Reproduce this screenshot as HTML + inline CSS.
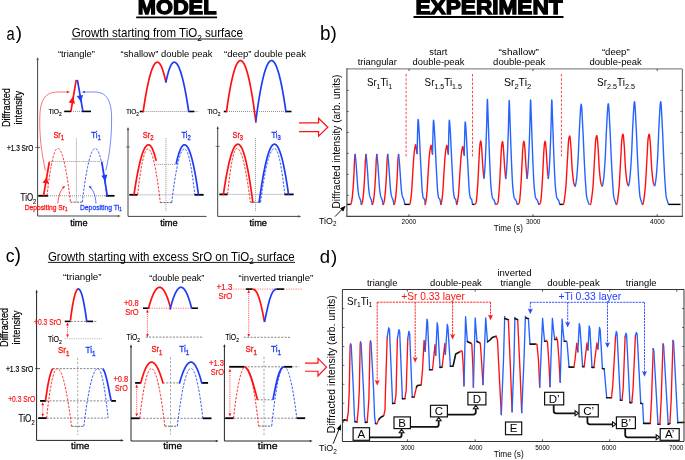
<!DOCTYPE html>
<html><head><meta charset="utf-8"><style>
html,body{margin:0;padding:0;background:#fff;overflow:hidden}
svg{display:block;will-change:transform}
text{font-family:"Liberation Sans",sans-serif}
</style></head><body>
<svg width="685" height="460" viewBox="0 0 685 460">
<rect width="685" height="460" fill="#fff"/>
<text transform="translate(137.80,14.10) scale(1.0379,1)" fill="#000" font-weight="bold" stroke="#000" stroke-width="1.3"><tspan dy="0.00" font-size="21.00">MODEL</tspan></text>
<line x1="136.20" y1="17.30" x2="217.10" y2="17.30" stroke="#000" stroke-width="1.8" />
<text transform="translate(415.50,14.00) scale(1.0782,1)" fill="#000" font-weight="bold" stroke="#000" stroke-width="1.3"><tspan dy="0.00" font-size="21.00">EXPERIMENT</tspan></text>
<line x1="413.50" y1="17.00" x2="563.50" y2="17.00" stroke="#000" stroke-width="1.8" />
<text transform="translate(6.40,39.60) scale(0.7970,1)" fill="#000" ><tspan dy="0.00" font-size="18.50">a</tspan></text>
<text transform="translate(15.70,38.90) scale(0.9998,1)" fill="#000" ><tspan dy="0.00" font-size="18.80">)</tspan></text>
<text transform="translate(319.90,39.80) scale(0.9393,1)" fill="#000" ><tspan dy="0.00" font-size="20.10">b</tspan></text>
<text transform="translate(330.40,38.80) scale(0.9956,1)" fill="#000" ><tspan dy="0.00" font-size="19.00">)</tspan></text>
<text transform="translate(5.80,262.00) scale(0.9565,1)" fill="#000" ><tspan dy="0.00" font-size="18.40">c</tspan></text>
<text transform="translate(14.50,261.70) scale(0.9998,1)" fill="#000" ><tspan dy="0.00" font-size="19.40">)</tspan></text>
<text transform="translate(319.75,263.20) scale(0.9692,1)" fill="#000" ><tspan dy="0.00" font-size="19.20">d</tspan></text>
<text transform="translate(330.90,262.60) scale(1.0009,1)" fill="#000" ><tspan dy="0.00" font-size="18.60">)</tspan></text>
<text transform="translate(71.70,37.00) scale(0.9018,1)" fill="#000" ><tspan dy="0.00" font-size="12.80">Growth starting from TiO</tspan><tspan dy="3.58" font-size="9.22">2</tspan><tspan dy="-3.58" font-size="12.80"> surface</tspan></text>
<line x1="71.70" y1="39.00" x2="243.10" y2="39.00" stroke="#000" stroke-width="0.9" />
<text transform="translate(57.90,56.50) scale(0.9870,1)" fill="#000" ><tspan dy="0.00" font-size="9.50">“triangle”</tspan></text>
<text transform="translate(120.50,56.50) scale(0.9965,1)" fill="#000" ><tspan dy="0.00" font-size="9.50">“shallow” double peak</tspan></text>
<text transform="translate(224.00,56.50) scale(1.0016,1)" fill="#000" ><tspan dy="0.00" font-size="9.50">“deep” double peak</tspan></text>
<text transform="translate(10.30,127.00) rotate(-90) scale(0.8716,1)" fill="#000"  stroke="#000" stroke-width="0.18"><tspan dy="0.00" font-size="10.50">Diffracted</tspan></text>
<text transform="translate(21.50,124.50) rotate(-90) scale(0.8697,1)" fill="#000"  stroke="#000" stroke-width="0.18"><tspan dy="0.00" font-size="10.50">intensity</tspan></text>
<line x1="37.60" y1="58.50" x2="37.60" y2="216.00" stroke="#444" stroke-width="1" />
<path d="M37.60,57.00 L38.70,60.00 L36.50,60.00 Z" fill="#444"/>
<line x1="37.60" y1="216.00" x2="119.00" y2="216.00" stroke="#444" stroke-width="1" />
<path d="M120.80,216.00 L117.80,217.10 L117.80,214.90 Z" fill="#444"/>
<line x1="35.20" y1="147.40" x2="40.10" y2="147.40" stroke="#444" stroke-width="0.8" />
<text transform="translate(6.90,150.50) scale(0.7989,1)" fill="#000"  stroke="#000" stroke-width="0.18"><tspan dy="0.00" font-size="8.20">+1.3 SrO</tspan></text>
<text transform="translate(20.60,200.50) scale(0.7184,1)" fill="#000"  stroke="#000" stroke-width="0.12"><tspan dy="0.00" font-size="11.00">TiO</tspan><tspan dy="3.08" font-size="7.92">2</tspan></text>
<text transform="translate(48.50,114.20) scale(0.9357,1)" fill="#000"  stroke="#000" stroke-width="0.12"><tspan dy="0.00" font-size="7.20">TiO</tspan><tspan dy="2.02" font-size="5.18">2</tspan></text>
<line x1="64.20" y1="111.40" x2="71.00" y2="111.40" stroke="#000" stroke-width="1.6" />
<line x1="71.00" y1="111.40" x2="81.70" y2="111.40" stroke="#888" stroke-width="0.9" stroke-dasharray="1,1" />
<line x1="81.70" y1="111.40" x2="91.00" y2="111.40" stroke="#000" stroke-width="1.6" />
<line x1="70.90" y1="111.40" x2="76.20" y2="79.80" stroke="#ff1010" stroke-width="1.7" />
<line x1="77.40" y1="79.80" x2="82.90" y2="111.40" stroke="#1d3df5" stroke-width="1.7" />
<path d="M73.00,96.60 L75.01,103.66 L68.70,102.54 Z" fill="#ff1010"/>
<path d="M81.00,102.00 L76.70,96.06 L83.01,94.94 Z" fill="#1d3df5"/>
<path d="M45.4,170.7 C41,150 39.5,135 39.8,118 C40,100 45,92 58,92 L67.5,92" stroke="#ff1010" stroke-width="0.6" fill="none" />
<path d="M70.00,92.00 L66.80,93.30 L66.80,90.70 Z" fill="#ff1010"/>
<path d="M105.8,170.7 C110.5,150 111.6,135 111.6,118 C111.6,100 106,92 95,92 L84.2,92" stroke="#1d3df5" stroke-width="0.6" fill="none" />
<path d="M81.70,92.00 L84.90,90.70 L84.90,93.30 Z" fill="#1d3df5"/>
<text transform="translate(53.40,137.70) scale(0.7628,1)" fill="#ff1010"  stroke="#ff1010" stroke-width="0.32"><tspan dy="0.00" font-size="9.60">Sr</tspan><tspan dy="2.60" font-size="7.49">1</tspan></text>
<text transform="translate(91.30,137.70) scale(0.8216,1)" fill="#1d3df5"  stroke="#1d3df5" stroke-width="0.32"><tspan dy="0.00" font-size="9.60">Ti</tspan><tspan dy="2.60" font-size="7.49">1</tspan></text>
<line x1="64.20" y1="195.80" x2="48.00" y2="195.80" stroke="#000" stroke-width="0" />
<line x1="38.20" y1="195.80" x2="48.00" y2="195.80" stroke="#000" stroke-width="1.8" />
<line x1="105.70" y1="195.80" x2="114.50" y2="195.80" stroke="#000" stroke-width="1.8" />
<line x1="48.00" y1="195.80" x2="105.70" y2="195.80" stroke="#888" stroke-width="0.9" stroke-dasharray="1,1" />
<line x1="49.30" y1="161.50" x2="103.80" y2="161.50" stroke="#888" stroke-width="0.9" stroke-dasharray="1,1" />
<line x1="76.40" y1="138.60" x2="76.40" y2="202.50" stroke="#888" stroke-width="0.9" stroke-dasharray="1,1" />
<path d="M47.00,195.80 L47.25,193.62 L47.50,191.49 L47.75,189.42 L48.00,187.39 L48.26,185.42 L48.51,183.49 L48.76,181.62 L49.01,179.80 L49.26,178.03 L49.51,176.32 L49.76,174.65 L50.01,173.04 L50.27,171.47 L50.52,169.96 L50.77,168.50 L51.02,167.09 L51.27,165.73 L51.52,164.42 L51.77,163.17 L52.02,161.96 L52.27,160.81 L52.53,159.71 L52.78,158.65 L53.03,157.65 L53.28,156.71 L53.53,155.81 L53.78,154.96 L54.03,154.17 L54.28,153.42 L54.53,152.73 L54.79,152.09 L55.04,151.50 L55.29,150.96 L55.54,150.48 L55.79,150.04 L56.04,149.66 L56.29,149.32 L56.54,149.04 L56.80,148.81 L57.05,148.63 L57.30,148.50 L57.55,148.43 L57.80,148.40 L58.05,148.42 L58.31,148.49 L58.56,148.59 L58.82,148.74 L59.07,148.94 L59.32,149.17 L59.58,149.45 L59.83,149.78 L60.09,150.14 L60.34,150.55 L60.59,151.00 L60.85,151.50 L61.10,152.04 L61.36,152.62 L61.61,153.24 L61.86,153.91 L62.12,154.62 L62.37,155.37 L62.63,156.17 L62.88,157.01 L63.13,157.89 L63.39,158.82 L63.64,159.78 L63.90,160.80 L64.15,161.85 L64.40,162.95 L64.66,164.09 L64.91,165.27 L65.17,166.50 L65.42,167.77 L65.67,169.08 L65.93,170.44 L66.18,171.84 L66.44,173.28 L66.69,174.76 L66.94,176.29 L67.20,177.86 L67.45,179.47 L67.71,181.13 L67.96,182.83 L68.21,184.58 L68.47,186.36 L68.72,188.19 L68.98,190.06 L69.23,191.98 L69.48,193.94 L69.74,195.94 L69.99,197.98 L70.25,200.07 L70.50,202.20" stroke="#ff1010" stroke-width="0.9" fill="none" stroke-linejoin="round" stroke-linecap="butt" stroke-dasharray="2.4,1.4"/>
<line x1="70.50" y1="202.20" x2="82.20" y2="202.20" stroke="#666" stroke-width="1.0" stroke-dasharray="2.1,1" />
<path d="M82.20,202.20 L82.45,200.15 L82.70,198.14 L82.96,196.17 L83.21,194.24 L83.46,192.35 L83.71,190.50 L83.96,188.69 L84.22,186.92 L84.47,185.19 L84.72,183.50 L84.97,181.85 L85.22,180.23 L85.47,178.66 L85.73,177.13 L85.98,175.64 L86.23,174.19 L86.48,172.77 L86.73,171.40 L86.99,170.07 L87.24,168.77 L87.49,167.52 L87.74,166.31 L87.99,165.13 L88.25,164.00 L88.50,162.90 L88.75,161.85 L89.00,160.84 L89.25,159.86 L89.51,158.93 L89.76,158.03 L90.01,157.17 L90.26,156.36 L90.51,155.58 L90.77,154.85 L91.02,154.15 L91.27,153.49 L91.52,152.88 L91.77,152.30 L92.03,151.76 L92.28,151.27 L92.53,150.81 L92.78,150.39 L93.03,150.01 L93.28,149.67 L93.54,149.37 L93.79,149.12 L94.04,148.90 L94.29,148.72 L94.54,148.58 L94.80,148.48 L95.05,148.42 L95.30,148.40 L95.55,148.42 L95.81,148.49 L96.06,148.61 L96.31,148.77 L96.57,148.99 L96.82,149.24 L97.07,149.55 L97.33,149.90 L97.58,150.30 L97.83,150.74 L98.09,151.23 L98.34,151.77 L98.59,152.36 L98.85,152.99 L99.10,153.67 L99.35,154.39 L99.61,155.16 L99.86,155.98 L100.11,156.85 L100.37,157.76 L100.62,158.72 L100.87,159.73 L101.13,160.78 L101.38,161.88 L101.63,163.03 L101.89,164.22 L102.14,165.46 L102.39,166.75 L102.65,168.09 L102.90,169.47 L103.15,170.89 L103.41,172.37 L103.66,173.89 L103.91,175.46 L104.17,177.07 L104.42,178.74 L104.67,180.44 L104.93,182.20 L105.18,184.00 L105.43,185.85 L105.69,187.75 L105.94,189.69 L106.19,191.68 L106.45,193.72 L106.70,195.80" stroke="#1d3df5" stroke-width="0.9" fill="none" stroke-linejoin="round" stroke-linecap="butt" stroke-dasharray="2.4,1.4"/>
<line x1="43.50" y1="195.80" x2="49.30" y2="162.00" stroke="#ff1010" stroke-width="1.7" />
<path d="M46.70,177.30 L48.81,183.76 L42.51,182.65 Z" fill="#ff1010"/>
<line x1="101.80" y1="162.00" x2="107.30" y2="195.80" stroke="#1d3df5" stroke-width="1.7" />
<path d="M105.40,181.00 L101.31,175.63 L107.41,174.55 Z" fill="#1d3df5"/>
<text transform="translate(24.70,209.80) scale(0.8945,1)" fill="#ff1010"  stroke="#ff1010" stroke-width="0.26"><tspan dy="0.00" font-size="7.50">Depositing Sr</tspan><tspan dy="1.60" font-size="4.88">1</tspan></text>
<text transform="translate(79.90,209.80) scale(0.9095,1)" fill="#1d3df5"  stroke="#1d3df5" stroke-width="0.26"><tspan dy="0.00" font-size="7.50">Depositing Ti</tspan><tspan dy="1.60" font-size="4.88">1</tspan></text>
<path d="M57.8,203.5 C58.5,195 61,189 64.6,186.5" stroke="#ff1010" stroke-width="0.7" fill="none" />
<path d="M65.20,186.00 L63.43,188.70 L62.05,186.74 Z" fill="#ff1010"/>
<path d="M96,203.5 C95.5,195 93,189 89.2,186.5" stroke="#1d3df5" stroke-width="0.7" fill="none" />
<path d="M88.60,186.00 L91.75,186.74 L90.37,188.70 Z" fill="#1d3df5"/>
<text transform="translate(70.20,225.50) scale(0.9639,1)" fill="#000"  stroke="#000" stroke-width="0.3"><tspan dy="0.00" font-size="9.50">time</tspan></text>
<text transform="translate(126.00,114.00) scale(0.9075,1)" fill="#000"  stroke="#000" stroke-width="0.12"><tspan dy="0.00" font-size="7.20">TiO</tspan><tspan dy="2.02" font-size="5.18">2</tspan></text>
<line x1="139.70" y1="111.50" x2="143.70" y2="111.50" stroke="#000" stroke-width="1.6" />
<line x1="143.70" y1="111.50" x2="198.30" y2="111.50" stroke="#888" stroke-width="0.9" stroke-dasharray="1,1" />
<line x1="188.70" y1="111.50" x2="194.30" y2="111.50" stroke="#000" stroke-width="1.6" />
<path d="M143.20,111.50 L143.45,109.76 L143.71,108.04 L143.96,106.36 L144.21,104.71 L144.47,103.09 L144.72,101.50 L144.97,99.95 L145.23,98.42 L145.48,96.93 L145.74,95.46 L145.99,94.03 L146.24,92.64 L146.50,91.27 L146.75,89.93 L147.00,88.63 L147.26,87.35 L147.51,86.11 L147.76,84.90 L148.02,83.72 L148.27,82.57 L148.53,81.46 L148.78,80.37 L149.03,79.32 L149.29,78.30 L149.54,77.31 L149.79,76.35 L150.05,75.42 L150.30,74.52 L150.55,73.66 L150.81,72.83 L151.06,72.03 L151.31,71.26 L151.57,70.52 L151.82,69.81 L152.07,69.13 L152.33,68.49 L152.58,67.88 L152.84,67.29 L153.09,66.74 L153.34,66.22 L153.60,65.74 L153.85,65.28 L154.10,64.86 L154.36,64.46 L154.61,64.10 L154.86,63.77 L155.12,63.47 L155.37,63.21 L155.62,62.97 L155.88,62.77 L156.13,62.59 L156.39,62.45 L156.64,62.34 L156.89,62.26 L157.15,62.22 L157.40,62.20 L157.65,62.22 L157.90,62.27 L158.15,62.36 L158.40,62.48 L158.65,62.64 L158.91,62.83 L159.16,63.06 L159.41,63.32 L159.66,63.62 L159.91,63.96 L160.16,64.32 L160.41,64.73 L160.66,65.17 L160.91,65.64 L161.16,66.15 L161.42,66.69 L161.67,67.27 L161.92,67.89 L162.17,68.54 L162.42,69.22 L162.67,69.94 L162.92,70.69 L163.17,71.48 L163.42,72.31 L163.67,73.17 L163.92,74.06 L164.18,74.99 L164.43,75.96 L164.68,76.96 L164.93,78.00 L165.18,79.07 L165.43,80.17 L165.68,81.31" stroke="#ff1010" stroke-width="1.7" fill="none" stroke-linejoin="round" stroke-linecap="round" />
<path d="M165.95,82.05 L166.20,80.87 L166.45,79.72 L166.70,78.61 L166.95,77.53 L167.20,76.49 L167.45,75.49 L167.70,74.53 L167.95,73.60 L168.20,72.70 L168.45,71.84 L168.70,71.02 L168.95,70.24 L169.20,69.49 L169.45,68.78 L169.70,68.11 L169.95,67.47 L170.20,66.87 L170.45,66.30 L170.70,65.77 L170.95,65.28 L171.20,64.83 L171.45,64.41 L171.70,64.02 L171.95,63.68 L172.20,63.37 L172.45,63.09 L172.70,62.86 L172.95,62.66 L173.20,62.49 L173.45,62.36 L173.70,62.27 L173.95,62.22 L174.20,62.20 L174.45,62.21 L174.70,62.26 L174.95,62.33 L175.20,62.43 L175.45,62.57 L175.70,62.73 L175.95,62.92 L176.20,63.14 L176.45,63.39 L176.70,63.67 L176.95,63.97 L177.20,64.31 L177.45,64.68 L177.70,65.07 L177.95,65.50 L178.20,65.95 L178.45,66.44 L178.70,66.95 L178.95,67.49 L179.20,68.06 L179.45,68.66 L179.70,69.29 L179.95,69.95 L180.20,70.64 L180.45,71.36 L180.70,72.11 L180.95,72.88 L181.20,73.69 L181.45,74.53 L181.70,75.39 L181.95,76.28 L182.20,77.21 L182.45,78.16 L182.70,79.14 L182.95,80.15 L183.20,81.19 L183.45,82.26 L183.70,83.36 L183.95,84.49 L184.20,85.65 L184.45,86.84 L184.70,88.05 L184.95,89.30 L185.20,90.57 L185.45,91.88 L185.70,93.21 L185.95,94.57 L186.20,95.97 L186.45,97.39 L186.70,98.84 L186.95,100.32 L187.20,101.83 L187.45,103.37 L187.70,104.93 L187.95,106.53 L188.20,108.16 L188.45,109.81 L188.70,111.50" stroke="#1d3df5" stroke-width="1.7" fill="none" stroke-linejoin="round" stroke-linecap="round" />
<text transform="translate(207.20,114.00) scale(0.9427,1)" fill="#000"  stroke="#000" stroke-width="0.12"><tspan dy="0.00" font-size="7.20">TiO</tspan><tspan dy="2.02" font-size="5.18">2</tspan></text>
<line x1="223.80" y1="111.50" x2="227.00" y2="111.50" stroke="#000" stroke-width="1.6" />
<line x1="227.00" y1="111.50" x2="286.00" y2="111.50" stroke="#888" stroke-width="0.9" stroke-dasharray="1,1" />
<line x1="285.00" y1="111.50" x2="291.50" y2="111.50" stroke="#000" stroke-width="1.6" />
<path d="M226.50,111.50 L226.75,109.69 L227.00,107.91 L227.25,106.17 L227.51,104.45 L227.76,102.77 L228.01,101.13 L228.26,99.51 L228.51,97.93 L228.76,96.38 L229.01,94.87 L229.26,93.39 L229.52,91.94 L229.77,90.52 L230.02,89.13 L230.27,87.78 L230.52,86.46 L230.77,85.18 L231.02,83.92 L231.27,82.70 L231.53,81.52 L231.78,80.36 L232.03,79.24 L232.28,78.15 L232.53,77.09 L232.78,76.07 L233.03,75.08 L233.28,74.12 L233.54,73.19 L233.79,72.30 L234.04,71.44 L234.29,70.62 L234.54,69.82 L234.79,69.06 L235.04,68.33 L235.29,67.64 L235.55,66.97 L235.80,66.34 L236.05,65.75 L236.30,65.18 L236.55,64.65 L236.80,64.15 L237.05,63.68 L237.31,63.25 L237.56,62.85 L237.81,62.48 L238.06,62.15 L238.31,61.85 L238.56,61.58 L238.81,61.34 L239.06,61.14 L239.32,60.96 L239.57,60.83 L239.82,60.72 L240.07,60.65 L240.32,60.61 L240.57,60.60 L240.82,60.63 L241.07,60.69 L241.33,60.78 L241.58,60.90 L241.83,61.06 L242.08,61.25 L242.33,61.47 L242.58,61.73 L242.83,62.01 L243.08,62.33 L243.34,62.69 L243.59,63.08 L243.84,63.49 L244.09,63.95 L244.34,64.43 L244.59,64.95 L244.84,65.50 L245.09,66.08 L245.35,66.70 L245.60,67.35 L245.85,68.03 L246.10,68.74 L246.35,69.49 L246.60,70.27 L246.85,71.08 L247.11,71.93 L247.36,72.81 L247.61,73.72 L247.86,74.66 L248.11,75.64 L248.36,76.65 L248.61,77.69 L248.86,78.77 L249.12,79.88 L249.37,81.02 L249.62,82.19 L249.87,83.40 L250.12,84.64 L250.37,85.91 L250.62,87.21 L250.87,88.55 L251.13,89.92 L251.38,91.32 L251.63,92.76 L251.88,94.23 L252.13,95.73 L252.38,97.26 L252.63,98.83 L252.88,100.43 L253.14,102.06 L253.39,103.73 L253.64,105.43 L253.89,107.16 L254.14,108.92 L254.39,110.72 L254.64,112.55 L254.89,114.41 L255.15,116.31 L255.40,118.23 L255.65,120.20 L255.90,122.19" stroke="#ff1010" stroke-width="1.7" fill="none" stroke-linejoin="round" stroke-linecap="round" />
<path d="M255.90,120.34 L256.15,118.42 L256.40,116.54 L256.66,114.69 L256.91,112.86 L257.16,111.07 L257.41,109.31 L257.66,107.59 L257.92,105.89 L258.17,104.22 L258.42,102.59 L258.67,100.99 L258.93,99.41 L259.18,97.87 L259.43,96.36 L259.68,94.89 L259.93,93.44 L260.19,92.02 L260.44,90.64 L260.69,89.28 L260.94,87.96 L261.19,86.67 L261.45,85.41 L261.70,84.18 L261.95,82.99 L262.20,81.82 L262.45,80.68 L262.71,79.58 L262.96,78.51 L263.21,77.47 L263.46,76.46 L263.72,75.48 L263.97,74.53 L264.22,73.61 L264.47,72.73 L264.72,71.87 L264.98,71.05 L265.23,70.26 L265.48,69.50 L265.73,68.77 L265.98,68.07 L266.24,67.40 L266.49,66.77 L266.74,66.16 L266.99,65.59 L267.24,65.05 L267.50,64.53 L267.75,64.05 L268.00,63.61 L268.25,63.19 L268.51,62.80 L268.76,62.45 L269.01,62.12 L269.26,61.83 L269.51,61.57 L269.77,61.34 L270.02,61.14 L270.27,60.97 L270.52,60.83 L270.77,60.73 L271.03,60.66 L271.28,60.61 L271.53,60.60 L271.78,60.62 L272.03,60.67 L272.29,60.75 L272.54,60.86 L272.79,61.01 L273.04,61.18 L273.29,61.39 L273.55,61.63 L273.80,61.90 L274.05,62.20 L274.30,62.53 L274.56,62.89 L274.81,63.29 L275.06,63.71 L275.31,64.17 L275.56,64.65 L275.82,65.17 L276.07,65.72 L276.32,66.30 L276.57,66.92 L276.82,67.56 L277.08,68.23 L277.33,68.94 L277.58,69.68 L277.83,70.44 L278.08,71.24 L278.34,72.07 L278.59,72.94 L278.84,73.83 L279.09,74.75 L279.35,75.71 L279.60,76.70 L279.85,77.71 L280.10,78.76 L280.35,79.84 L280.61,80.95 L280.86,82.10 L281.11,83.27 L281.36,84.47 L281.61,85.71 L281.87,86.98 L282.12,88.28 L282.37,89.61 L282.62,90.97 L282.87,92.36 L283.13,93.78 L283.38,95.24 L283.63,96.72 L283.88,98.24 L284.14,99.79 L284.39,101.37 L284.64,102.98 L284.89,104.62 L285.14,106.29 L285.40,108.00 L285.65,109.73 L285.90,111.50" stroke="#1d3df5" stroke-width="1.7" fill="none" stroke-linejoin="round" stroke-linecap="round" />
<line x1="128.00" y1="128.50" x2="128.00" y2="216.40" stroke="#444" stroke-width="1" />
<path d="M128.00,127.00 L129.10,130.00 L126.90,130.00 Z" fill="#444"/>
<line x1="128.00" y1="216.40" x2="206.50" y2="216.40" stroke="#444" stroke-width="1" />
<line x1="126.00" y1="146.90" x2="130.00" y2="146.90" stroke="#444" stroke-width="0.7" />
<text transform="translate(142.70,137.80) scale(0.7846,1)" fill="#ff1010"  stroke="#ff1010" stroke-width="0.32"><tspan dy="0.00" font-size="9.60">Sr</tspan><tspan dy="2.60" font-size="7.49">2</tspan></text>
<text transform="translate(181.40,137.80) scale(0.7878,1)" fill="#1d3df5"  stroke="#1d3df5" stroke-width="0.32"><tspan dy="0.00" font-size="9.60">Ti</tspan><tspan dy="2.60" font-size="7.49">2</tspan></text>
<line x1="129.30" y1="194.80" x2="137.60" y2="194.80" stroke="#000" stroke-width="1.8" />
<line x1="194.40" y1="194.80" x2="203.70" y2="194.80" stroke="#000" stroke-width="1.8" />
<line x1="137.60" y1="194.80" x2="194.40" y2="194.80" stroke="#888" stroke-width="0.9" stroke-dasharray="1,1" />
<line x1="156.20" y1="164.40" x2="176.20" y2="164.40" stroke="#888" stroke-width="0.9" stroke-dasharray="1,1" />
<line x1="165.90" y1="138.20" x2="165.90" y2="211.00" stroke="#888" stroke-width="0.9" stroke-dasharray="1,1" />
<path d="M137.60,194.80 L137.85,192.59 L138.10,190.43 L138.35,188.33 L138.60,186.28 L138.86,184.29 L139.11,182.35 L139.36,180.46 L139.61,178.64 L139.86,176.86 L140.11,175.14 L140.36,173.47 L140.61,171.86 L140.87,170.31 L141.12,168.81 L141.37,167.36 L141.62,165.97 L141.87,164.63 L142.12,163.34 L142.37,162.12 L142.62,160.94 L142.88,159.82 L143.13,158.76 L143.38,157.75 L143.63,156.79 L143.88,155.89 L144.13,155.04 L144.38,154.25 L144.63,153.51 L144.89,152.83 L145.14,152.20 L145.39,151.63 L145.64,151.11 L145.89,150.65 L146.14,150.24 L146.39,149.88 L146.64,149.58 L146.90,149.34 L147.15,149.15 L147.40,149.01 L147.65,148.93 L147.90,148.90 L148.15,148.92 L148.41,148.99 L148.66,149.10 L148.91,149.26 L149.17,149.46 L149.42,149.71 L149.67,150.00 L149.92,150.33 L150.18,150.71 L150.43,151.14 L150.68,151.61 L150.94,152.12 L151.19,152.68 L151.44,153.28 L151.70,153.93 L151.95,154.63 L152.20,155.36 L152.46,156.15 L152.71,156.97 L152.96,157.85 L153.21,158.76 L153.47,159.72 L153.72,160.73 L153.97,161.78 L154.23,162.88 L154.48,164.02 L154.73,165.20 L154.99,166.43 L155.24,167.71 L155.49,169.03 L155.74,170.39 L156.00,171.80 L156.25,173.26 L156.50,174.75 L156.76,176.30 L157.01,177.89 L157.26,179.52 L157.52,181.20 L157.77,182.92 L158.02,184.69 L158.28,186.50 L158.53,188.35 L158.78,190.25 L159.03,192.20 L159.29,194.19 L159.54,196.23 L159.79,198.31 L160.05,200.43 L160.30,202.60" stroke="#ff1010" stroke-width="0.9" fill="none" stroke-linejoin="round" stroke-linecap="butt" stroke-dasharray="2.4,1.4"/>
<line x1="160.30" y1="202.60" x2="171.70" y2="202.60" stroke="#666" stroke-width="1.0" stroke-dasharray="2.1,1" />
<path d="M171.70,202.60 L171.95,200.51 L172.20,198.47 L172.45,196.47 L172.70,194.51 L172.95,192.59 L173.21,190.71 L173.46,188.87 L173.71,187.07 L173.96,185.32 L174.21,183.61 L174.46,181.93 L174.71,180.30 L174.96,178.71 L175.21,177.16 L175.46,175.66 L175.72,174.19 L175.97,172.77 L176.22,171.38 L176.47,170.04 L176.72,168.74 L176.97,167.48 L177.22,166.26 L177.47,165.09 L177.72,163.95 L177.97,162.86 L178.23,161.80 L178.48,160.79 L178.73,159.82 L178.98,158.89 L179.23,158.00 L179.48,157.16 L179.73,156.35 L179.98,155.59 L180.23,154.87 L180.48,154.19 L180.74,153.55 L180.99,152.95 L181.24,152.39 L181.49,151.87 L181.74,151.40 L181.99,150.96 L182.24,150.57 L182.49,150.22 L182.74,149.91 L182.99,149.64 L183.25,149.42 L183.50,149.23 L183.75,149.09 L184.00,148.98 L184.25,148.92 L184.50,148.90 L184.75,148.93 L185.00,149.01 L185.25,149.15 L185.50,149.34 L185.76,149.58 L186.01,149.88 L186.26,150.24 L186.51,150.65 L186.76,151.11 L187.01,151.63 L187.26,152.20 L187.51,152.83 L187.77,153.51 L188.02,154.25 L188.27,155.04 L188.52,155.89 L188.77,156.79 L189.02,157.75 L189.27,158.76 L189.52,159.82 L189.78,160.94 L190.03,162.12 L190.28,163.34 L190.53,164.63 L190.78,165.97 L191.03,167.36 L191.28,168.81 L191.53,170.31 L191.79,171.86 L192.04,173.47 L192.29,175.14 L192.54,176.86 L192.79,178.64 L193.04,180.46 L193.29,182.35 L193.54,184.29 L193.80,186.28 L194.05,188.33 L194.30,190.43 L194.55,192.59 L194.80,194.80" stroke="#1d3df5" stroke-width="0.9" fill="none" stroke-linejoin="round" stroke-linecap="butt" stroke-dasharray="2.4,1.4"/>
<path d="M134.00,194.80 L134.25,193.09 L134.50,191.41 L134.75,189.76 L135.00,188.14 L135.25,186.55 L135.50,184.99 L135.75,183.46 L136.00,181.96 L136.25,180.49 L136.50,179.04 L136.75,177.63 L137.00,176.25 L137.25,174.90 L137.50,173.58 L137.75,172.28 L138.00,171.02 L138.25,169.79 L138.50,168.58 L138.75,167.41 L139.00,166.26 L139.25,165.15 L139.50,164.06 L139.75,163.01 L140.00,161.98 L140.25,160.99 L140.50,160.02 L140.75,159.08 L141.00,158.18 L141.25,157.30 L141.50,156.45 L141.75,155.64 L142.00,154.85 L142.25,154.09 L142.50,153.36 L142.75,152.66 L143.00,151.99 L143.25,151.35 L143.50,150.75 L143.75,150.17 L144.00,149.62 L144.25,149.10 L144.50,148.60 L144.75,148.14 L145.00,147.71 L145.25,147.31 L145.50,146.94 L145.75,146.60 L146.00,146.29 L146.25,146.00 L146.50,145.75 L146.75,145.53 L147.00,145.34 L147.25,145.17 L147.50,145.04 L147.75,144.93 L148.00,144.86 L148.25,144.81 L148.50,144.80 L148.75,144.82 L149.00,144.87 L149.25,144.95 L149.50,145.07 L149.75,145.23 L150.00,145.42 L150.25,145.64 L150.50,145.90 L150.75,146.19 L151.00,146.51 L151.25,146.87 L151.50,147.27 L151.75,147.70 L152.00,148.16 L152.25,148.66 L152.50,149.19 L152.75,149.76 L153.00,150.36 L153.25,150.99 L153.50,151.66 L153.75,152.36 L154.00,153.10 L154.25,153.87 L154.50,154.68 L154.75,155.52 L155.00,156.39 L155.25,157.30 L155.50,158.24 L155.75,159.22 L156.00,160.23" stroke="#ff1010" stroke-width="1.7" fill="none" stroke-linejoin="round" stroke-linecap="round" />
<path d="M176.25,163.47 L176.50,162.36 L176.75,161.28 L177.00,160.23 L177.25,159.22 L177.50,158.24 L177.75,157.30 L178.00,156.39 L178.25,155.52 L178.50,154.68 L178.75,153.87 L179.00,153.10 L179.25,152.36 L179.50,151.66 L179.75,150.99 L180.00,150.36 L180.25,149.76 L180.50,149.19 L180.75,148.66 L181.00,148.16 L181.25,147.70 L181.50,147.27 L181.75,146.87 L182.00,146.51 L182.25,146.19 L182.50,145.90 L182.75,145.64 L183.00,145.42 L183.25,145.23 L183.50,145.07 L183.75,144.95 L184.00,144.87 L184.25,144.82 L184.50,144.80 L184.75,144.82 L185.00,144.86 L185.25,144.94 L185.50,145.06 L185.75,145.20 L186.00,145.37 L186.25,145.58 L186.50,145.82 L186.75,146.09 L187.00,146.39 L187.25,146.73 L187.50,147.10 L187.75,147.49 L188.00,147.93 L188.25,148.39 L188.50,148.88 L188.75,149.41 L189.00,149.97 L189.25,150.56 L189.50,151.18 L189.75,151.83 L190.00,152.52 L190.25,153.23 L190.50,153.98 L190.75,154.76 L191.00,155.58 L191.25,156.42 L191.50,157.30 L191.75,158.21 L192.00,159.15 L192.25,160.12 L192.50,161.13 L192.75,162.16 L193.00,163.23 L193.25,164.33 L193.50,165.46 L193.75,166.63 L194.00,167.82 L194.25,169.05 L194.50,170.31 L194.75,171.60 L195.00,172.93 L195.25,174.28 L195.50,175.67 L195.75,177.09 L196.00,178.54 L196.25,180.02 L196.50,181.53 L196.75,183.08 L197.00,184.66 L197.25,186.27 L197.50,187.91 L197.75,189.59 L198.00,191.29 L198.25,193.03 L198.50,194.80" stroke="#1d3df5" stroke-width="1.7" fill="none" stroke-linejoin="round" stroke-linecap="round" />
<text transform="translate(160.20,225.60) scale(0.9751,1)" fill="#000"  stroke="#000" stroke-width="0.3"><tspan dy="0.00" font-size="9.50">time</tspan></text>
<line x1="217.70" y1="127.50" x2="217.70" y2="216.40" stroke="#444" stroke-width="1" />
<path d="M217.70,126.00 L218.80,129.00 L216.60,129.00 Z" fill="#444"/>
<line x1="217.70" y1="216.40" x2="299.50" y2="216.40" stroke="#444" stroke-width="1" />
<path d="M301.20,216.40 L298.20,217.50 L298.20,215.30 Z" fill="#444"/>
<line x1="215.70" y1="146.40" x2="219.70" y2="146.40" stroke="#444" stroke-width="0.7" />
<text transform="translate(232.60,137.80) scale(0.7555,1)" fill="#ff1010"  stroke="#ff1010" stroke-width="0.32"><tspan dy="0.00" font-size="9.60">Sr</tspan><tspan dy="2.60" font-size="7.49">3</tspan></text>
<text transform="translate(271.40,137.80) scale(0.7878,1)" fill="#1d3df5"  stroke="#1d3df5" stroke-width="0.32"><tspan dy="0.00" font-size="9.60">Ti</tspan><tspan dy="2.60" font-size="7.49">3</tspan></text>
<line x1="219.30" y1="194.40" x2="227.60" y2="194.40" stroke="#000" stroke-width="1.8" />
<line x1="284.40" y1="194.40" x2="293.70" y2="194.40" stroke="#000" stroke-width="1.8" />
<line x1="227.60" y1="194.40" x2="284.40" y2="194.40" stroke="#888" stroke-width="0.9" stroke-dasharray="1,1" />
<line x1="255.50" y1="138.20" x2="255.50" y2="211.00" stroke="#888" stroke-width="0.9" stroke-dasharray="1,1" />
<path d="M227.60,194.40 L227.85,191.95 L228.10,189.57 L228.35,187.26 L228.61,185.01 L228.86,182.83 L229.11,180.72 L229.36,178.68 L229.61,176.70 L229.86,174.79 L230.11,172.94 L230.36,171.17 L230.62,169.46 L230.87,167.81 L231.12,166.24 L231.37,164.73 L231.62,163.29 L231.87,161.91 L232.12,160.60 L232.38,159.36 L232.63,158.19 L232.88,157.08 L233.13,156.04 L233.38,155.07 L233.63,154.17 L233.88,153.33 L234.14,152.56 L234.39,151.85 L234.64,151.22 L234.89,150.65 L235.14,150.14 L235.39,149.71 L235.64,149.34 L235.89,149.04 L236.15,148.80 L236.40,148.63 L236.65,148.53 L236.90,148.50 L237.15,148.52 L237.41,148.58 L237.66,148.67 L237.91,148.81 L238.16,148.98 L238.42,149.19 L238.67,149.44 L238.92,149.72 L239.18,150.05 L239.43,150.41 L239.68,150.81 L239.93,151.25 L240.19,151.73 L240.44,152.25 L240.69,152.80 L240.95,153.39 L241.20,154.02 L241.45,154.69 L241.70,155.40 L241.96,156.15 L242.21,156.93 L242.46,157.75 L242.72,158.61 L242.97,159.51 L243.22,160.45 L243.47,161.42 L243.73,162.44 L243.98,163.49 L244.23,164.58 L244.48,165.71 L244.74,166.87 L244.99,168.08 L245.24,169.32 L245.50,170.60 L245.75,171.92 L246.00,173.28 L246.25,174.67 L246.51,176.11 L246.76,177.58 L247.01,179.09 L247.27,180.64 L247.52,182.22 L247.77,183.85 L248.02,185.51 L248.28,187.21 L248.53,188.95 L248.78,190.73 L249.04,192.55 L249.29,194.40 L249.54,196.29 L249.79,198.22 L250.05,200.19 L250.30,202.20" stroke="#ff1010" stroke-width="0.9" fill="none" stroke-linejoin="round" stroke-linecap="butt" stroke-dasharray="2.4,1.4"/>
<line x1="250.30" y1="202.20" x2="260.60" y2="202.20" stroke="#666" stroke-width="1.0" stroke-dasharray="2.1,1" />
<path d="M260.60,202.20 L260.85,200.27 L261.11,198.37 L261.36,196.50 L261.61,194.67 L261.86,192.88 L262.12,191.12 L262.37,189.40 L262.62,187.71 L262.87,186.06 L263.13,184.45 L263.38,182.87 L263.63,181.32 L263.89,179.81 L264.14,178.34 L264.39,176.90 L264.64,175.50 L264.90,174.13 L265.15,172.80 L265.40,171.51 L265.65,170.25 L265.91,169.02 L266.16,167.83 L266.41,166.68 L266.67,165.56 L266.92,164.48 L267.17,163.43 L267.42,162.42 L267.68,161.44 L267.93,160.50 L268.18,159.60 L268.43,158.73 L268.69,157.89 L268.94,157.09 L269.19,156.33 L269.45,155.60 L269.70,154.91 L269.95,154.25 L270.20,153.63 L270.46,153.04 L270.71,152.49 L270.96,151.98 L271.21,151.50 L271.47,151.06 L271.72,150.65 L271.97,150.28 L272.23,149.94 L272.48,149.64 L272.73,149.37 L272.98,149.14 L273.24,148.94 L273.49,148.78 L273.74,148.66 L273.99,148.57 L274.25,148.52 L274.50,148.50 L274.75,148.53 L275.00,148.61 L275.25,148.75 L275.50,148.94 L275.76,149.18 L276.01,149.48 L276.26,149.84 L276.51,150.25 L276.76,150.71 L277.01,151.23 L277.26,151.80 L277.51,152.43 L277.77,153.11 L278.02,153.85 L278.27,154.64 L278.52,155.49 L278.77,156.39 L279.02,157.35 L279.27,158.36 L279.52,159.42 L279.78,160.54 L280.03,161.72 L280.28,162.94 L280.53,164.23 L280.78,165.57 L281.03,166.96 L281.28,168.41 L281.53,169.91 L281.79,171.46 L282.04,173.07 L282.29,174.74 L282.54,176.46 L282.79,178.24 L283.04,180.06 L283.29,181.95 L283.54,183.89 L283.80,185.88 L284.05,187.93 L284.30,190.03 L284.55,192.19 L284.80,194.40" stroke="#1d3df5" stroke-width="0.9" fill="none" stroke-linejoin="round" stroke-linecap="butt" stroke-dasharray="2.4,1.4"/>
<path d="M223.40,194.40 L223.65,192.68 L223.90,191.00 L224.15,189.34 L224.40,187.71 L224.65,186.12 L224.90,184.55 L225.15,183.01 L225.40,181.51 L225.65,180.03 L225.90,178.58 L226.15,177.16 L226.40,175.78 L226.65,174.42 L226.90,173.09 L227.15,171.79 L227.40,170.52 L227.65,169.29 L227.90,168.08 L228.15,166.90 L228.40,165.75 L228.65,164.63 L228.90,163.54 L229.15,162.48 L229.40,161.45 L229.65,160.45 L229.90,159.48 L230.15,158.54 L230.40,157.63 L230.65,156.75 L230.90,155.90 L231.15,155.08 L231.40,154.29 L231.65,153.53 L231.90,152.80 L232.15,152.09 L232.40,151.42 L232.65,150.78 L232.90,150.17 L233.15,149.59 L233.40,149.03 L233.65,148.51 L233.90,148.02 L234.15,147.56 L234.40,147.12 L234.65,146.72 L234.90,146.35 L235.15,146.01 L235.40,145.69 L235.65,145.41 L235.90,145.16 L236.15,144.93 L236.40,144.74 L236.65,144.57 L236.90,144.44 L237.15,144.33 L237.40,144.26 L237.65,144.21 L237.90,144.20 L238.15,144.22 L238.41,144.27 L238.66,144.35 L238.91,144.47 L239.16,144.62 L239.42,144.80 L239.67,145.02 L239.92,145.27 L240.17,145.55 L240.43,145.87 L240.68,146.22 L240.93,146.60 L241.18,147.02 L241.44,147.47 L241.69,147.95 L241.94,148.47 L242.19,149.02 L242.45,149.60 L242.70,150.21 L242.95,150.86 L243.20,151.55 L243.46,152.26 L243.71,153.01 L243.96,153.80 L244.21,154.61 L244.47,155.46 L244.72,156.35 L244.97,157.26 L245.22,158.21 L245.48,159.20 L245.73,160.21 L245.98,161.26 L246.23,162.34 L246.49,163.46 L246.74,164.61 L246.99,165.79 L247.24,167.01 L247.50,168.26 L247.75,169.54 L248.00,170.86 L248.25,172.21 L248.51,173.59 L248.76,175.01 L249.01,176.46 L249.26,177.94 L249.52,179.46 L249.77,181.01 L250.02,182.59 L250.27,184.21 L250.53,185.85 L250.78,187.54 L251.03,189.25 L251.28,191.00 L251.54,192.79 L251.79,194.60 L252.04,196.45 L252.29,198.33 L252.55,200.25 L252.80,202.20" stroke="#ff1010" stroke-width="1.7" fill="none" stroke-linejoin="round" stroke-linecap="round" />
<path d="M259.20,202.20 L259.45,200.31 L259.70,198.46 L259.95,196.64 L260.20,194.84 L260.45,193.08 L260.70,191.35 L260.96,189.65 L261.21,187.98 L261.46,186.35 L261.71,184.74 L261.96,183.17 L262.21,181.62 L262.46,180.11 L262.71,178.63 L262.96,177.18 L263.21,175.76 L263.46,174.38 L263.71,173.02 L263.97,171.70 L264.22,170.40 L264.47,169.14 L264.72,167.91 L264.97,166.71 L265.22,165.54 L265.47,164.40 L265.72,163.29 L265.97,162.22 L266.22,161.17 L266.47,160.16 L266.72,159.18 L266.98,158.23 L267.23,157.31 L267.48,156.42 L267.73,155.56 L267.98,154.74 L268.23,153.94 L268.48,153.18 L268.73,152.45 L268.98,151.74 L269.23,151.07 L269.48,150.43 L269.73,149.83 L269.99,149.25 L270.24,148.70 L270.49,148.19 L270.74,147.71 L270.99,147.26 L271.24,146.83 L271.49,146.44 L271.74,146.09 L271.99,145.76 L272.24,145.46 L272.49,145.20 L272.74,144.96 L273.00,144.76 L273.25,144.59 L273.50,144.45 L273.75,144.34 L274.00,144.26 L274.25,144.22 L274.50,144.20 L274.75,144.22 L275.00,144.26 L275.25,144.34 L275.50,144.46 L275.75,144.60 L276.00,144.78 L276.25,144.98 L276.50,145.22 L276.75,145.50 L277.00,145.80 L277.25,146.14 L277.50,146.51 L277.75,146.91 L278.00,147.34 L278.25,147.80 L278.50,148.30 L278.75,148.83 L279.00,149.39 L279.25,149.98 L279.50,150.60 L279.75,151.26 L280.00,151.95 L280.25,152.67 L280.50,153.42 L280.75,154.20 L281.00,155.02 L281.25,155.87 L281.50,156.75 L281.75,157.66 L282.00,158.61 L282.25,159.58 L282.50,160.59 L282.75,161.63 L283.00,162.70 L283.25,163.81 L283.50,164.95 L283.75,166.11 L284.00,167.32 L284.25,168.55 L284.50,169.81 L284.75,171.11 L285.00,172.44 L285.25,173.80 L285.50,175.19 L285.75,176.62 L286.00,178.07 L286.25,179.56 L286.50,181.08 L286.75,182.63 L287.00,184.22 L287.25,185.84 L287.50,187.48 L287.75,189.17 L288.00,190.88 L288.25,192.62 L288.50,194.40" stroke="#1d3df5" stroke-width="1.7" fill="none" stroke-linejoin="round" stroke-linecap="round" />
<text transform="translate(249.50,225.60) scale(0.9751,1)" fill="#000"  stroke="#000" stroke-width="0.3"><tspan dy="0.00" font-size="9.50">time</tspan></text>
<path d="M299,122.85000000000001 L318.6,122.85000000000001 L318.6,118.25 L327.8,127.2 L318.6,136.15 L318.6,131.55 L299,131.55" stroke="#ff1010" stroke-width="1.2" fill="none" stroke-linejoin="miter"/>
<path d="M305,363.15 L318.0,363.15 L318.0,358.4 L326.5,367.2 L318.0,376.0 L318.0,371.25 L305,371.25" stroke="#ff1010" stroke-width="1.2" fill="none" stroke-linejoin="miter"/>
<text transform="translate(339.80,208.50) rotate(-90) scale(0.9904,1)" fill="#000" ><tspan dy="0.00" font-size="10.20">Diffracted intensity (arb. units)</tspan></text>
<line x1="346.80" y1="204.40" x2="350.70" y2="204.40" stroke="#000" stroke-width="1.4" />
<path d="M350.60,204.40 L350.81,204.24 L351.02,203.79 L351.23,203.11 L351.44,202.27 L351.65,201.33 L351.85,200.32 L352.06,198.98 L352.27,197.24 L352.48,195.18 L352.69,192.87 L352.90,190.38 L353.11,187.79 L353.32,184.87 L353.53,181.50 L353.74,177.81 L353.95,173.93 L354.15,169.53 L354.36,164.31 L354.57,159.72 L354.78,157.07 L354.99,155.27 L355.20,154.40" stroke="#ff1010" stroke-width="1.4" fill="none" stroke-linejoin="round" stroke-linecap="round" />
<path d="M355.20,154.40 L355.40,156.17 L355.61,158.13 L355.81,160.26 L356.01,162.56 L356.22,165.11 L356.42,167.93 L356.62,170.89 L356.83,173.85 L357.03,176.82 L357.23,180.03 L357.44,183.21 L357.64,186.07 L357.84,188.33 L358.05,190.24 L358.25,191.96 L358.45,193.47 L358.66,194.71 L358.86,195.65 L359.06,196.39 L359.27,197.00 L359.47,197.55 L359.67,198.07 L359.88,198.60 L360.08,199.06 L360.28,199.51 L360.49,200.04 L360.69,200.75 L360.89,201.75 L361.10,202.99 L361.30,204.40" stroke="#2563ff" stroke-width="1.4" fill="none" stroke-linejoin="round" stroke-linecap="round" />
<path d="M361.45,204.40 L361.66,204.24 L361.87,203.79 L362.08,203.11 L362.29,202.27 L362.50,201.33 L362.70,200.32 L362.91,198.98 L363.12,197.24 L363.33,195.18 L363.54,192.87 L363.75,190.38 L363.96,187.79 L364.17,184.87 L364.38,181.50 L364.59,177.81 L364.80,173.93 L365.00,169.53 L365.21,164.31 L365.42,159.72 L365.63,157.07 L365.84,155.27 L366.05,154.40" stroke="#ff1010" stroke-width="1.4" fill="none" stroke-linejoin="round" stroke-linecap="round" />
<path d="M366.05,154.40 L366.25,156.17 L366.46,158.13 L366.66,160.26 L366.86,162.56 L367.07,165.11 L367.27,167.93 L367.47,170.89 L367.68,173.85 L367.88,176.82 L368.08,180.03 L368.29,183.21 L368.49,186.07 L368.69,188.33 L368.90,190.24 L369.10,191.96 L369.30,193.47 L369.51,194.71 L369.71,195.65 L369.91,196.39 L370.12,197.00 L370.32,197.55 L370.52,198.07 L370.73,198.60 L370.93,199.06 L371.13,199.51 L371.34,200.04 L371.54,200.75 L371.74,201.75 L371.95,202.99 L372.15,204.40" stroke="#2563ff" stroke-width="1.4" fill="none" stroke-linejoin="round" stroke-linecap="round" />
<path d="M372.30,204.40 L372.51,204.24 L372.72,203.79 L372.93,203.11 L373.14,202.27 L373.35,201.33 L373.55,200.32 L373.76,198.98 L373.97,197.24 L374.18,195.18 L374.39,192.87 L374.60,190.38 L374.81,187.79 L375.02,184.87 L375.23,181.50 L375.44,177.81 L375.65,173.93 L375.85,169.53 L376.06,164.31 L376.27,159.72 L376.48,157.07 L376.69,155.27 L376.90,154.40" stroke="#ff1010" stroke-width="1.4" fill="none" stroke-linejoin="round" stroke-linecap="round" />
<path d="M376.90,154.40 L377.10,156.17 L377.31,158.13 L377.51,160.26 L377.71,162.56 L377.92,165.11 L378.12,167.93 L378.32,170.89 L378.53,173.85 L378.73,176.82 L378.93,180.03 L379.14,183.21 L379.34,186.07 L379.54,188.33 L379.75,190.24 L379.95,191.96 L380.15,193.47 L380.36,194.71 L380.56,195.65 L380.76,196.39 L380.97,197.00 L381.17,197.55 L381.37,198.07 L381.58,198.60 L381.78,199.06 L381.98,199.51 L382.19,200.04 L382.39,200.75 L382.59,201.75 L382.80,202.99 L383.00,204.40" stroke="#2563ff" stroke-width="1.4" fill="none" stroke-linejoin="round" stroke-linecap="round" />
<path d="M383.15,204.40 L383.36,204.24 L383.57,203.79 L383.78,203.11 L383.99,202.27 L384.20,201.33 L384.40,200.32 L384.61,198.98 L384.82,197.24 L385.03,195.18 L385.24,192.87 L385.45,190.38 L385.66,187.79 L385.87,184.87 L386.08,181.50 L386.29,177.81 L386.50,173.93 L386.70,169.53 L386.91,164.31 L387.12,159.72 L387.33,157.07 L387.54,155.27 L387.75,154.40" stroke="#ff1010" stroke-width="1.4" fill="none" stroke-linejoin="round" stroke-linecap="round" />
<path d="M387.75,154.40 L387.95,156.17 L388.16,158.13 L388.36,160.26 L388.56,162.56 L388.77,165.11 L388.97,167.93 L389.17,170.89 L389.38,173.85 L389.58,176.82 L389.78,180.03 L389.99,183.21 L390.19,186.07 L390.39,188.33 L390.60,190.24 L390.80,191.96 L391.00,193.47 L391.21,194.71 L391.41,195.65 L391.61,196.39 L391.82,197.00 L392.02,197.55 L392.22,198.07 L392.43,198.60 L392.63,199.06 L392.83,199.51 L393.04,200.04 L393.24,200.75 L393.44,201.75 L393.65,202.99 L393.85,204.40" stroke="#2563ff" stroke-width="1.4" fill="none" stroke-linejoin="round" stroke-linecap="round" />
<path d="M394.00,204.40 L394.21,204.24 L394.42,203.79 L394.63,203.11 L394.84,202.27 L395.05,201.33 L395.25,200.32 L395.46,198.98 L395.67,197.24 L395.88,195.18 L396.09,192.87 L396.30,190.38 L396.51,187.79 L396.72,184.87 L396.93,181.50 L397.14,177.81 L397.35,173.93 L397.55,169.53 L397.76,164.31 L397.97,159.72 L398.18,157.07 L398.39,155.27 L398.60,154.40" stroke="#ff1010" stroke-width="1.4" fill="none" stroke-linejoin="round" stroke-linecap="round" />
<path d="M398.60,154.40 L398.80,156.17 L399.01,158.13 L399.21,160.26 L399.41,162.56 L399.62,165.11 L399.82,167.93 L400.02,170.89 L400.23,173.85 L400.43,176.82 L400.63,180.03 L400.84,183.21 L401.04,186.07 L401.24,188.33 L401.45,190.24 L401.65,191.96 L401.85,193.47 L402.06,194.71 L402.26,195.65 L402.46,196.39 L402.67,197.00 L402.87,197.55 L403.07,198.07 L403.28,198.60 L403.48,199.06 L403.68,199.51 L403.89,200.04 L404.09,200.75 L404.29,201.75 L404.50,202.99 L404.70,204.40" stroke="#2563ff" stroke-width="1.4" fill="none" stroke-linejoin="round" stroke-linecap="round" />
<line x1="404.70" y1="204.40" x2="409.70" y2="204.40" stroke="#000" stroke-width="1.4" />
<path d="M409.70,204.40 L409.90,204.00 L410.10,203.30 L410.30,202.35 L410.50,201.19 L410.70,199.85 L410.90,198.38 L411.10,196.82 L411.30,195.13 L411.50,192.93 L411.70,190.25 L411.90,187.20 L412.10,183.90 L412.30,180.48 L412.50,177.04 L412.70,173.69 L412.90,170.56 L413.10,167.44 L413.30,164.17 L413.50,160.98 L413.70,158.09 L413.90,155.72 L414.10,153.75 L414.30,151.96 L414.50,150.35 L414.70,148.94 L414.90,147.74 L415.10,146.74 L415.30,145.77 L415.50,145.01 L415.70,144.71 L415.90,145.28 L416.10,146.65 L416.30,148.34 L416.50,149.86 L416.70,151.12 L416.90,152.36 L417.10,153.60" stroke="#ff1010" stroke-width="1.4" fill="none" stroke-linejoin="round" stroke-linecap="round" />
<path d="M417.10,153.60 L417.30,144.42 L417.50,136.56 L417.71,128.85 L417.91,122.06 L418.11,119.36 L418.31,120.15 L418.52,122.09 L418.72,124.83 L418.92,128.02 L419.12,131.31 L419.33,134.62 L419.53,138.65 L419.73,143.16 L419.93,147.82 L420.14,152.29 L420.34,156.39 L420.54,160.42 L420.74,164.38 L420.95,168.26 L421.15,172.05 L421.35,175.75 L421.55,179.66 L421.76,183.63 L421.96,187.29 L422.16,190.29 L422.36,192.32 L422.57,193.96 L422.77,195.40 L422.97,196.60 L423.17,197.52 L423.38,198.09 L423.58,198.38 L423.78,198.56 L423.98,198.70 L424.19,198.87 L424.39,199.13 L424.59,199.64 L424.79,200.50 L425.00,201.62 L425.20,202.95 L425.40,204.40" stroke="#2563ff" stroke-width="1.4" fill="none" stroke-linejoin="round" stroke-linecap="round" />
<path d="M425.10,204.40 L425.30,204.00 L425.50,203.32 L425.70,202.37 L425.90,201.22 L426.10,199.89 L426.30,198.44 L426.50,196.89 L426.70,195.22 L426.90,193.04 L427.10,190.39 L427.30,187.37 L427.50,184.11 L427.70,180.71 L427.90,177.31 L428.10,174.00 L428.30,170.90 L428.50,167.81 L428.70,164.57 L428.90,161.41 L429.10,158.55 L429.30,156.20 L429.50,154.26 L429.70,152.48 L429.90,150.88 L430.10,149.48 L430.30,148.30 L430.50,147.31 L430.70,146.35 L430.90,145.60 L431.10,145.30 L431.30,145.86 L431.50,147.22 L431.70,148.90 L431.90,150.40 L432.10,151.65 L432.30,152.88 L432.50,154.10" stroke="#ff1010" stroke-width="1.4" fill="none" stroke-linejoin="round" stroke-linecap="round" />
<path d="M432.50,154.10 L432.70,145.02 L432.90,137.23 L433.11,129.60 L433.31,122.87 L433.51,120.20 L433.71,120.98 L433.92,122.90 L434.12,125.61 L434.32,128.77 L434.52,132.03 L434.73,135.31 L434.93,139.30 L435.13,143.77 L435.33,148.38 L435.54,152.80 L435.74,156.87 L435.94,160.85 L436.14,164.77 L436.35,168.62 L436.55,172.37 L436.75,176.03 L436.95,179.90 L437.16,183.83 L437.36,187.46 L437.56,190.43 L437.76,192.44 L437.97,194.06 L438.17,195.49 L438.37,196.68 L438.57,197.59 L438.78,198.16 L438.98,198.44 L439.18,198.62 L439.38,198.76 L439.59,198.92 L439.79,199.18 L439.99,199.69 L440.19,200.54 L440.40,201.65 L440.60,202.96 L440.80,204.40" stroke="#2563ff" stroke-width="1.4" fill="none" stroke-linejoin="round" stroke-linecap="round" />
<path d="M440.90,204.40 L441.10,204.00 L441.30,203.32 L441.50,202.37 L441.70,201.22 L441.90,199.89 L442.10,198.44 L442.30,196.89 L442.50,195.22 L442.70,193.04 L442.90,190.39 L443.10,187.37 L443.30,184.11 L443.50,180.71 L443.70,177.31 L443.90,174.00 L444.10,170.90 L444.30,167.81 L444.50,164.57 L444.70,161.41 L444.90,158.55 L445.10,156.20 L445.30,154.26 L445.50,152.48 L445.70,150.88 L445.90,149.48 L446.10,148.30 L446.30,147.31 L446.50,146.35 L446.70,145.60 L446.90,145.30 L447.10,145.86 L447.30,147.22 L447.50,148.90 L447.70,150.40 L447.90,151.65 L448.10,152.88 L448.30,154.10" stroke="#ff1010" stroke-width="1.4" fill="none" stroke-linejoin="round" stroke-linecap="round" />
<path d="M448.30,154.10 L448.50,145.02 L448.70,137.23 L448.91,129.60 L449.11,122.87 L449.31,120.20 L449.51,120.98 L449.72,122.90 L449.92,125.61 L450.12,128.77 L450.32,132.03 L450.53,135.31 L450.73,139.30 L450.93,143.77 L451.13,148.38 L451.34,152.80 L451.54,156.87 L451.74,160.85 L451.94,164.77 L452.15,168.62 L452.35,172.37 L452.55,176.03 L452.75,179.90 L452.96,183.83 L453.16,187.46 L453.36,190.43 L453.56,192.44 L453.77,194.06 L453.97,195.49 L454.17,196.68 L454.37,197.59 L454.58,198.16 L454.78,198.44 L454.98,198.62 L455.18,198.76 L455.39,198.92 L455.59,199.18 L455.79,199.69 L455.99,200.54 L456.20,201.65 L456.40,202.96 L456.60,204.40" stroke="#2563ff" stroke-width="1.4" fill="none" stroke-linejoin="round" stroke-linecap="round" />
<path d="M456.80,204.40 L457.00,204.01 L457.20,203.34 L457.40,202.41 L457.60,201.28 L457.80,199.98 L458.00,198.56 L458.20,197.04 L458.40,195.41 L458.60,193.27 L458.80,190.67 L459.00,187.71 L459.20,184.51 L459.40,181.19 L459.60,177.85 L459.80,174.60 L460.00,171.57 L460.20,168.54 L460.40,165.37 L460.60,162.27 L460.80,159.47 L461.00,157.16 L461.20,155.26 L461.40,153.52 L461.60,151.95 L461.80,150.58 L462.00,149.43 L462.20,148.46 L462.40,147.51 L462.60,146.78 L462.80,146.48 L463.00,147.03 L463.20,148.37 L463.40,150.01 L463.60,151.48 L463.80,152.70 L464.00,153.91 L464.20,155.11" stroke="#ff1010" stroke-width="1.4" fill="none" stroke-linejoin="round" stroke-linecap="round" />
<path d="M464.20,155.11 L464.40,146.21 L464.60,138.57 L464.81,131.10 L465.01,124.50 L465.21,121.89 L465.41,122.65 L465.62,124.53 L465.82,127.19 L466.02,130.29 L466.22,133.48 L466.43,136.69 L466.63,140.60 L466.83,144.98 L467.03,149.50 L467.24,153.84 L467.44,157.82 L467.64,161.72 L467.84,165.57 L468.05,169.33 L468.25,173.01 L468.45,176.60 L468.65,180.39 L468.86,184.24 L469.06,187.80 L469.26,190.71 L469.46,192.68 L469.67,194.27 L469.87,195.67 L470.07,196.84 L470.27,197.72 L470.48,198.28 L470.68,198.56 L470.88,198.74 L471.08,198.87 L471.29,199.03 L471.49,199.28 L471.69,199.78 L471.89,200.61 L472.10,201.70 L472.30,202.99 L472.50,204.40" stroke="#2563ff" stroke-width="1.4" fill="none" stroke-linejoin="round" stroke-linecap="round" />
<line x1="472.50" y1="204.40" x2="474.40" y2="204.40" stroke="#000" stroke-width="1.4" />
<path d="M474.40,204.40 L474.60,204.37 L474.80,204.29 L475.01,204.16 L475.21,203.98 L475.41,203.76 L475.61,203.50 L475.81,203.20 L476.02,202.86 L476.22,202.14 L476.42,200.85 L476.62,199.08 L476.83,196.93 L477.03,194.50 L477.23,191.88 L477.43,189.17 L477.63,186.45 L477.84,183.27 L478.04,179.54 L478.24,175.47 L478.44,171.28 L478.64,167.18 L478.85,163.15 L479.05,158.83 L479.25,154.58 L479.45,150.82 L479.66,147.91 L479.86,145.46 L480.06,143.50 L480.26,142.30 L480.46,141.44 L480.67,141.00 L480.87,141.33 L481.07,142.43 L481.27,143.89 L481.47,145.82 L481.68,148.51 L481.88,151.35 L482.08,154.53 L482.28,157.96 L482.49,161.38 L482.69,164.55 L482.89,167.26 L483.09,169.77 L483.29,172.14 L483.50,174.35 L483.70,176.36 L483.90,178.17" stroke="#ff1010" stroke-width="1.4" fill="none" stroke-linejoin="round" stroke-linecap="round" />
<path d="M483.90,178.17 L484.10,176.95 L484.30,175.26 L484.51,173.20 L484.71,170.85 L484.91,168.00 L485.11,164.50 L485.31,160.47 L485.51,156.03 L485.72,151.30 L485.92,146.42 L486.12,141.36 L486.32,135.72 L486.52,129.62 L486.72,123.18 L486.93,114.52 L487.13,105.30 L487.33,99.48 L487.53,100.22 L487.73,105.51 L487.94,112.09 L488.14,117.71 L488.34,123.52 L488.54,129.44 L488.74,135.25 L488.94,141.13 L489.15,147.03 L489.35,152.73 L489.55,157.96 L489.75,162.74 L489.95,167.51 L490.15,172.14 L490.36,176.50 L490.56,180.45 L490.76,183.82 L490.96,186.49 L491.16,188.58 L491.36,190.51 L491.57,192.29 L491.77,193.89 L491.97,195.29 L492.17,196.45 L492.37,197.37 L492.58,198.01 L492.78,198.42 L492.98,198.74 L493.18,198.98 L493.38,199.20 L493.58,199.43 L493.79,199.69 L493.99,200.03 L494.19,200.42 L494.39,200.86 L494.59,201.37 L494.79,201.97 L495.00,202.69 L495.20,203.50 L495.40,204.40" stroke="#2563ff" stroke-width="1.4" fill="none" stroke-linejoin="round" stroke-linecap="round" />
<path d="M496.20,204.40 L496.40,204.37 L496.60,204.29 L496.81,204.16 L497.01,203.99 L497.21,203.77 L497.41,203.51 L497.61,203.21 L497.82,202.88 L498.02,202.16 L498.22,200.88 L498.42,199.13 L498.63,197.01 L498.83,194.60 L499.03,192.01 L499.23,189.32 L499.43,186.63 L499.64,183.48 L499.84,179.78 L500.04,175.75 L500.24,171.61 L500.44,167.55 L500.65,163.56 L500.85,159.28 L501.05,155.07 L501.25,151.35 L501.46,148.47 L501.66,146.05 L501.86,144.10 L502.06,142.92 L502.26,142.07 L502.47,141.63 L502.67,141.96 L502.87,143.05 L503.07,144.50 L503.27,146.41 L503.48,149.07 L503.68,151.88 L503.88,155.02 L504.08,158.42 L504.29,161.81 L504.49,164.94 L504.69,167.63 L504.89,170.12 L505.09,172.46 L505.30,174.65 L505.50,176.64 L505.70,178.43" stroke="#ff1010" stroke-width="1.4" fill="none" stroke-linejoin="round" stroke-linecap="round" />
<path d="M505.70,178.43 L505.90,177.22 L506.10,175.55 L506.31,173.51 L506.51,171.18 L506.71,168.36 L506.91,164.89 L507.11,160.90 L507.31,156.51 L507.52,151.83 L507.72,146.99 L507.92,141.99 L508.12,136.41 L508.32,130.36 L508.52,123.98 L508.73,115.41 L508.93,106.28 L509.13,100.52 L509.33,101.26 L509.53,106.50 L509.74,113.00 L509.94,118.57 L510.14,124.32 L510.34,130.19 L510.54,135.94 L510.74,141.75 L510.95,147.60 L511.15,153.24 L511.35,158.42 L511.55,163.15 L511.75,167.87 L511.95,172.46 L512.16,176.78 L512.36,180.68 L512.56,184.03 L512.76,186.67 L512.96,188.73 L513.16,190.65 L513.37,192.41 L513.57,193.99 L513.77,195.38 L513.97,196.53 L514.17,197.44 L514.38,198.07 L514.58,198.48 L514.78,198.79 L514.98,199.04 L515.18,199.25 L515.38,199.48 L515.59,199.74 L515.79,200.08 L515.99,200.46 L516.19,200.89 L516.39,201.40 L516.59,202.00 L516.80,202.71 L517.00,203.51 L517.20,204.40" stroke="#2563ff" stroke-width="1.4" fill="none" stroke-linejoin="round" stroke-linecap="round" />
<path d="M517.60,204.40 L517.80,204.37 L518.00,204.29 L518.21,204.16 L518.41,203.98 L518.61,203.76 L518.81,203.50 L519.01,203.20 L519.22,202.87 L519.42,202.15 L519.62,200.87 L519.82,199.11 L520.03,196.97 L520.23,194.55 L520.43,191.95 L520.63,189.25 L520.83,186.54 L521.04,183.38 L521.24,179.66 L521.44,175.61 L521.64,171.44 L521.84,167.37 L522.05,163.36 L522.25,159.05 L522.45,154.83 L522.65,151.08 L522.86,148.19 L523.06,145.75 L523.26,143.80 L523.46,142.61 L523.66,141.75 L523.87,141.31 L524.07,141.64 L524.27,142.74 L524.47,144.20 L524.67,146.12 L524.88,148.79 L525.08,151.61 L525.28,154.78 L525.48,158.19 L525.69,161.60 L525.89,164.75 L526.09,167.45 L526.29,169.95 L526.49,172.30 L526.70,174.50 L526.90,176.50 L527.10,178.30" stroke="#ff1010" stroke-width="1.4" fill="none" stroke-linejoin="round" stroke-linecap="round" />
<path d="M527.10,178.30 L527.30,177.09 L527.50,175.41 L527.71,173.35 L527.91,171.01 L528.11,168.18 L528.31,164.70 L528.51,160.68 L528.71,156.27 L528.92,151.57 L529.12,146.70 L529.32,141.67 L529.52,136.07 L529.72,129.99 L529.92,123.58 L530.13,114.96 L530.33,105.79 L530.53,100.00 L530.73,100.74 L530.93,106.00 L531.14,112.55 L531.34,118.14 L531.54,123.92 L531.74,129.82 L531.94,135.59 L532.14,141.44 L532.35,147.32 L532.55,152.98 L532.75,158.19 L532.95,162.95 L533.15,167.69 L533.35,172.30 L533.56,176.64 L533.76,180.56 L533.96,183.93 L534.16,186.58 L534.36,188.65 L534.56,190.58 L534.77,192.35 L534.97,193.94 L535.17,195.33 L535.37,196.49 L535.57,197.41 L535.78,198.04 L535.98,198.45 L536.18,198.76 L536.38,199.01 L536.58,199.23 L536.78,199.45 L536.99,199.72 L537.19,200.05 L537.39,200.44 L537.59,200.88 L537.79,201.38 L537.99,201.98 L538.20,202.70 L538.40,203.51 L538.60,204.40" stroke="#2563ff" stroke-width="1.4" fill="none" stroke-linejoin="round" stroke-linecap="round" />
<path d="M538.80,204.40 L539.00,204.37 L539.20,204.29 L539.41,204.16 L539.61,203.98 L539.81,203.76 L540.01,203.50 L540.21,203.20 L540.42,202.87 L540.62,202.15 L540.82,200.87 L541.02,199.11 L541.23,196.97 L541.43,194.55 L541.63,191.95 L541.83,189.25 L542.03,186.54 L542.24,183.38 L542.44,179.66 L542.64,175.61 L542.84,171.44 L543.04,167.37 L543.25,163.36 L543.45,159.05 L543.65,154.83 L543.85,151.08 L544.06,148.19 L544.26,145.75 L544.46,143.80 L544.66,142.61 L544.86,141.75 L545.07,141.31 L545.27,141.64 L545.47,142.74 L545.67,144.20 L545.87,146.12 L546.08,148.79 L546.28,151.61 L546.48,154.78 L546.68,158.19 L546.89,161.60 L547.09,164.75 L547.29,167.45 L547.49,169.95 L547.69,172.30 L547.90,174.50 L548.10,176.50 L548.30,178.30" stroke="#ff1010" stroke-width="1.4" fill="none" stroke-linejoin="round" stroke-linecap="round" />
<path d="M548.30,178.30 L548.50,177.09 L548.70,175.41 L548.91,173.35 L549.11,171.01 L549.31,168.18 L549.51,164.70 L549.71,160.68 L549.91,156.27 L550.12,151.57 L550.32,146.70 L550.52,141.67 L550.72,136.07 L550.92,129.99 L551.12,123.58 L551.33,114.96 L551.53,105.79 L551.73,100.00 L551.93,100.74 L552.13,106.00 L552.34,112.55 L552.54,118.14 L552.74,123.92 L552.94,129.82 L553.14,135.59 L553.34,141.44 L553.55,147.32 L553.75,152.98 L553.95,158.19 L554.15,162.95 L554.35,167.69 L554.55,172.30 L554.76,176.64 L554.96,180.56 L555.16,183.93 L555.36,186.58 L555.56,188.65 L555.76,190.58 L555.97,192.35 L556.17,193.94 L556.37,195.33 L556.57,196.49 L556.77,197.41 L556.98,198.04 L557.18,198.45 L557.38,198.76 L557.58,199.01 L557.78,199.23 L557.98,199.45 L558.19,199.72 L558.39,200.05 L558.59,200.44 L558.79,200.88 L558.99,201.38 L559.19,201.98 L559.40,202.70 L559.60,203.51 L559.80,204.40" stroke="#2563ff" stroke-width="1.4" fill="none" stroke-linejoin="round" stroke-linecap="round" />
<line x1="559.80" y1="204.40" x2="563.20" y2="204.40" stroke="#000" stroke-width="1.4" />
<path d="M563.20,204.40 L563.40,204.17 L563.60,203.69 L563.80,202.97 L564.00,202.04 L564.20,200.92 L564.40,199.63 L564.60,198.20 L564.80,196.64 L565.00,194.99 L565.20,193.26 L565.40,191.48 L565.60,189.67 L565.80,187.56 L566.00,184.93 L566.20,181.88 L566.40,178.50 L566.60,174.91 L566.80,171.19 L567.00,167.44 L567.20,163.77 L567.40,160.28 L567.60,156.94 L567.80,153.25 L568.00,149.40 L568.20,145.73 L568.40,142.57 L568.60,140.26 L568.80,138.96 L569.00,137.91 L569.20,137.02 L569.40,136.36 L569.60,135.99 L569.80,136.07 L570.00,136.97 L570.20,138.57 L570.40,140.67 L570.60,143.04 L570.80,145.50 L571.00,147.97 L571.20,151.12 L571.40,154.82 L571.60,158.78 L571.80,162.72 L572.00,166.35 L572.20,169.37 L572.40,171.64 L572.60,173.71 L572.80,175.67 L573.00,177.51 L573.20,179.18 L573.40,180.66 L573.60,181.92 L573.80,182.95 L574.00,183.70 L574.20,184.31 L574.40,184.87 L574.60,185.36 L574.80,185.74 L575.00,186.00 L575.20,186.09" stroke="#ff1010" stroke-width="1.4" fill="none" stroke-linejoin="round" stroke-linecap="round" />
<path d="M575.20,186.09 L575.40,185.59 L575.60,184.83 L575.80,183.86 L576.01,182.71 L576.21,181.43 L576.41,180.06 L576.61,178.46 L576.81,176.53 L577.01,174.30 L577.21,171.81 L577.42,169.09 L577.62,166.18 L577.82,163.11 L578.02,159.92 L578.22,156.48 L578.42,152.31 L578.62,147.59 L578.83,142.61 L579.03,137.64 L579.23,132.95 L579.43,128.83 L579.63,125.27 L579.83,121.56 L580.03,117.80 L580.24,114.18 L580.44,110.87 L580.64,108.04 L580.84,105.87 L581.04,104.54 L581.24,104.23 L581.44,105.11 L581.65,107.03 L581.85,109.81 L582.05,113.23 L582.25,117.07 L582.45,121.15 L582.65,125.24 L582.86,129.15 L583.06,132.98 L583.26,137.27 L583.46,141.88 L583.66,146.66 L583.86,151.43 L584.06,156.04 L584.27,160.32 L584.47,164.30 L584.67,168.22 L584.87,172.02 L585.07,175.64 L585.27,179.03 L585.47,182.13 L585.68,185.05 L585.88,187.96 L586.08,190.73 L586.28,193.20 L586.48,195.26 L586.68,196.74 L586.88,197.73 L587.09,198.52 L587.29,199.18 L587.49,199.78 L587.69,200.39 L587.89,201.02 L588.09,201.64 L588.29,202.24 L588.50,202.82 L588.70,203.37 L588.90,203.90 L589.10,204.40" stroke="#2563ff" stroke-width="1.4" fill="none" stroke-linejoin="round" stroke-linecap="round" />
<path d="M590.30,204.40 L590.50,204.17 L590.70,203.69 L590.90,202.96 L591.10,202.03 L591.30,200.90 L591.50,199.61 L591.70,198.17 L591.90,196.60 L592.10,194.94 L592.30,193.21 L592.50,191.42 L592.70,189.60 L592.90,187.48 L593.10,184.83 L593.30,181.77 L593.50,178.37 L593.70,174.76 L593.90,171.02 L594.10,167.26 L594.30,163.57 L594.50,160.06 L594.70,156.71 L594.90,152.99 L595.10,149.12 L595.30,145.44 L595.50,142.26 L595.70,139.94 L595.90,138.63 L596.10,137.57 L596.30,136.68 L596.50,136.01 L596.70,135.65 L596.90,135.72 L597.10,136.63 L597.30,138.24 L597.50,140.35 L597.70,142.74 L597.90,145.20 L598.10,147.69 L598.30,150.86 L598.50,154.57 L598.70,158.56 L598.90,162.51 L599.10,166.15 L599.30,169.19 L599.50,171.47 L599.70,173.56 L599.90,175.53 L600.10,177.37 L600.30,179.05 L600.50,180.54 L600.70,181.81 L600.90,182.84 L601.10,183.60 L601.30,184.21 L601.50,184.77 L601.70,185.26 L601.90,185.65 L602.10,185.91 L602.30,186.00" stroke="#ff1010" stroke-width="1.4" fill="none" stroke-linejoin="round" stroke-linecap="round" />
<path d="M602.30,186.00 L602.50,185.49 L602.70,184.73 L602.90,183.76 L603.11,182.60 L603.31,181.32 L603.51,179.94 L603.71,178.33 L603.91,176.39 L604.11,174.15 L604.31,171.65 L604.52,168.92 L604.72,165.99 L604.92,162.90 L605.12,159.70 L605.32,156.24 L605.52,152.04 L605.72,147.30 L605.93,142.30 L606.13,137.30 L606.33,132.59 L606.53,128.45 L606.73,124.87 L606.93,121.14 L607.13,117.37 L607.34,113.73 L607.54,110.40 L607.74,107.55 L607.94,105.38 L608.14,104.04 L608.34,103.73 L608.54,104.61 L608.75,106.55 L608.95,109.33 L609.15,112.77 L609.35,116.64 L609.55,120.73 L609.75,124.85 L609.96,128.77 L610.16,132.62 L610.36,136.93 L610.56,141.57 L610.76,146.37 L610.96,151.16 L611.16,155.80 L611.37,160.10 L611.57,164.10 L611.77,168.04 L611.97,171.86 L612.17,175.50 L612.37,178.91 L612.57,182.02 L612.78,184.95 L612.98,187.88 L613.18,190.66 L613.38,193.15 L613.58,195.21 L613.78,196.70 L613.98,197.70 L614.19,198.49 L614.39,199.15 L614.59,199.76 L614.79,200.37 L614.99,201.01 L615.19,201.63 L615.39,202.23 L615.60,202.81 L615.80,203.37 L616.00,203.90 L616.20,204.40" stroke="#2563ff" stroke-width="1.4" fill="none" stroke-linejoin="round" stroke-linecap="round" />
<path d="M616.50,204.40 L616.70,204.17 L616.90,203.67 L617.10,202.94 L617.30,201.98 L617.50,200.83 L617.70,199.51 L617.90,198.04 L618.10,196.45 L618.30,194.75 L618.50,192.98 L618.70,191.16 L618.90,189.30 L619.10,187.14 L619.30,184.44 L619.50,181.31 L619.70,177.85 L619.90,174.17 L620.10,170.35 L620.30,166.51 L620.50,162.75 L620.70,159.17 L620.90,155.75 L621.10,151.96 L621.30,148.02 L621.50,144.26 L621.70,141.02 L621.90,138.65 L622.10,137.32 L622.30,136.24 L622.50,135.32 L622.70,134.65 L622.90,134.27 L623.10,134.35 L623.30,135.27 L623.50,136.92 L623.70,139.06 L623.90,141.50 L624.10,144.02 L624.30,146.55 L624.50,149.79 L624.70,153.58 L624.90,157.64 L625.10,161.67 L625.30,165.39 L625.50,168.49 L625.70,170.81 L625.90,172.94 L626.10,174.95 L626.30,176.83 L626.50,178.54 L626.70,180.06 L626.90,181.36 L627.10,182.41 L627.30,183.18 L627.50,183.80 L627.70,184.38 L627.90,184.88 L628.10,185.28 L628.30,185.54 L628.50,185.63" stroke="#ff1010" stroke-width="1.4" fill="none" stroke-linejoin="round" stroke-linecap="round" />
<path d="M628.50,185.63 L628.70,185.12 L628.90,184.34 L629.10,183.34 L629.31,182.17 L629.51,180.86 L629.71,179.45 L629.91,177.81 L630.11,175.83 L630.31,173.55 L630.51,170.99 L630.72,168.21 L630.92,165.22 L631.12,162.07 L631.32,158.80 L631.52,155.28 L631.72,151.00 L631.92,146.16 L632.13,141.06 L632.33,135.96 L632.53,131.16 L632.73,126.93 L632.93,123.28 L633.13,119.47 L633.33,115.63 L633.54,111.91 L633.74,108.52 L633.94,105.62 L634.14,103.40 L634.34,102.03 L634.54,101.72 L634.74,102.61 L634.95,104.59 L635.15,107.43 L635.35,110.93 L635.55,114.88 L635.75,119.06 L635.95,123.25 L636.16,127.26 L636.36,131.19 L636.56,135.58 L636.76,140.31 L636.96,145.21 L637.16,150.10 L637.36,154.82 L637.57,159.22 L637.77,163.30 L637.97,167.31 L638.17,171.21 L638.37,174.92 L638.57,178.40 L638.77,181.57 L638.98,184.57 L639.18,187.55 L639.38,190.38 L639.58,192.92 L639.78,195.03 L639.98,196.55 L640.18,197.57 L640.39,198.37 L640.59,199.05 L640.79,199.66 L640.99,200.29 L641.19,200.94 L641.39,201.57 L641.59,202.19 L641.80,202.78 L642.00,203.35 L642.20,203.89 L642.40,204.40" stroke="#2563ff" stroke-width="1.4" fill="none" stroke-linejoin="round" stroke-linecap="round" />
<path d="M642.70,204.40 L642.90,204.17 L643.10,203.67 L643.30,202.94 L643.50,201.98 L643.70,200.83 L643.90,199.51 L644.10,198.04 L644.30,196.45 L644.50,194.75 L644.70,192.98 L644.90,191.16 L645.10,189.30 L645.30,187.14 L645.50,184.44 L645.70,181.31 L645.90,177.85 L646.10,174.17 L646.30,170.35 L646.50,166.51 L646.70,162.75 L646.90,159.17 L647.10,155.75 L647.30,151.96 L647.50,148.02 L647.70,144.26 L647.90,141.02 L648.10,138.65 L648.30,137.32 L648.50,136.24 L648.70,135.32 L648.90,134.65 L649.10,134.27 L649.30,134.35 L649.50,135.27 L649.70,136.92 L649.90,139.06 L650.10,141.50 L650.30,144.02 L650.50,146.55 L650.70,149.79 L650.90,153.58 L651.10,157.64 L651.30,161.67 L651.50,165.39 L651.70,168.49 L651.90,170.81 L652.10,172.94 L652.30,174.95 L652.50,176.83 L652.70,178.54 L652.90,180.06 L653.10,181.36 L653.30,182.41 L653.50,183.18 L653.70,183.80 L653.90,184.38 L654.10,184.88 L654.30,185.28 L654.50,185.54 L654.70,185.63" stroke="#ff1010" stroke-width="1.4" fill="none" stroke-linejoin="round" stroke-linecap="round" />
<path d="M654.70,185.63 L654.90,185.12 L655.10,184.34 L655.30,183.34 L655.51,182.17 L655.71,180.86 L655.91,179.45 L656.11,177.81 L656.31,175.83 L656.51,173.55 L656.71,170.99 L656.92,168.21 L657.12,165.22 L657.32,162.07 L657.52,158.80 L657.72,155.28 L657.92,151.00 L658.12,146.16 L658.33,141.06 L658.53,135.96 L658.73,131.16 L658.93,126.93 L659.13,123.28 L659.33,119.47 L659.53,115.63 L659.74,111.91 L659.94,108.52 L660.14,105.62 L660.34,103.40 L660.54,102.03 L660.74,101.72 L660.94,102.61 L661.15,104.59 L661.35,107.43 L661.55,110.93 L661.75,114.88 L661.95,119.06 L662.15,123.25 L662.36,127.26 L662.56,131.19 L662.76,135.58 L662.96,140.31 L663.16,145.21 L663.36,150.10 L663.56,154.82 L663.77,159.22 L663.97,163.30 L664.17,167.31 L664.37,171.21 L664.57,174.92 L664.77,178.40 L664.97,181.57 L665.18,184.57 L665.38,187.55 L665.58,190.38 L665.78,192.92 L665.98,195.03 L666.18,196.55 L666.38,197.57 L666.59,198.37 L666.79,199.05 L666.99,199.66 L667.19,200.29 L667.39,200.94 L667.59,201.57 L667.79,202.19 L668.00,202.78 L668.20,203.35 L668.40,203.89 L668.60,204.40" stroke="#2563ff" stroke-width="1.4" fill="none" stroke-linejoin="round" stroke-linecap="round" />
<line x1="668.60" y1="204.40" x2="680.50" y2="204.40" stroke="#000" stroke-width="1.4" />
<line x1="406.10" y1="74.00" x2="406.10" y2="157.80" stroke="#ff4a4a" stroke-width="1.0" stroke-dasharray="2.6,1.6" />
<line x1="472.50" y1="74.00" x2="472.50" y2="157.80" stroke="#ff4a4a" stroke-width="1.0" stroke-dasharray="2.6,1.6" />
<line x1="561.40" y1="74.00" x2="561.40" y2="157.80" stroke="#ff4a4a" stroke-width="1.0" stroke-dasharray="2.6,1.6" />
<line x1="346.90" y1="68.90" x2="682.40" y2="68.90" stroke="#8a8a8a" stroke-width="1.3" />
<line x1="682.40" y1="68.90" x2="682.40" y2="216.40" stroke="#777" stroke-width="1.2" />
<line x1="346.90" y1="68.30" x2="346.90" y2="216.40" stroke="#555" stroke-width="1.2" />
<line x1="346.30" y1="216.40" x2="683.00" y2="216.40" stroke="#444" stroke-width="1.2" />
<line x1="409.00" y1="216.40" x2="409.00" y2="214.20" stroke="#333" stroke-width="0.8" />
<line x1="409.00" y1="68.90" x2="409.00" y2="71.10" stroke="#333" stroke-width="0.8" />
<line x1="533.00" y1="216.40" x2="533.00" y2="214.20" stroke="#333" stroke-width="0.8" />
<line x1="533.00" y1="68.90" x2="533.00" y2="71.10" stroke="#333" stroke-width="0.8" />
<line x1="657.20" y1="216.40" x2="657.20" y2="214.20" stroke="#333" stroke-width="0.8" />
<line x1="657.20" y1="68.90" x2="657.20" y2="71.10" stroke="#333" stroke-width="0.8" />
<line x1="346.90" y1="90.40" x2="348.90" y2="90.40" stroke="#333" stroke-width="0.7" />
<line x1="682.40" y1="90.40" x2="680.40" y2="90.40" stroke="#333" stroke-width="0.7" />
<line x1="346.90" y1="111.40" x2="348.90" y2="111.40" stroke="#333" stroke-width="0.7" />
<line x1="682.40" y1="111.40" x2="680.40" y2="111.40" stroke="#333" stroke-width="0.7" />
<line x1="346.90" y1="132.40" x2="348.90" y2="132.40" stroke="#333" stroke-width="0.7" />
<line x1="682.40" y1="132.40" x2="680.40" y2="132.40" stroke="#333" stroke-width="0.7" />
<line x1="346.90" y1="153.40" x2="348.90" y2="153.40" stroke="#333" stroke-width="0.7" />
<line x1="682.40" y1="153.40" x2="680.40" y2="153.40" stroke="#333" stroke-width="0.7" />
<line x1="346.90" y1="174.40" x2="348.90" y2="174.40" stroke="#333" stroke-width="0.7" />
<line x1="682.40" y1="174.40" x2="680.40" y2="174.40" stroke="#333" stroke-width="0.7" />
<line x1="346.90" y1="195.40" x2="348.90" y2="195.40" stroke="#333" stroke-width="0.7" />
<line x1="682.40" y1="195.40" x2="680.40" y2="195.40" stroke="#333" stroke-width="0.7" />
<text transform="translate(401.60,224.30) scale(0.8203,1)" fill="#000" ><tspan dy="0.00" font-size="8.00">2000</tspan></text>
<text transform="translate(525.90,224.30) scale(0.8203,1)" fill="#000" ><tspan dy="0.00" font-size="8.00">3000</tspan></text>
<text transform="translate(650.00,224.30) scale(0.8203,1)" fill="#000" ><tspan dy="0.00" font-size="8.00">4000</tspan></text>
<text transform="translate(493.80,231.00) scale(0.8470,1)" fill="#000" ><tspan dy="0.00" font-size="9.50">Time (s)</tspan></text>
<text transform="translate(319.00,223.50) scale(0.9331,1)" fill="#000" ><tspan dy="0.00" font-size="9.50">TiO</tspan><tspan dy="2.66" font-size="6.84">2</tspan></text>
<line x1="335.00" y1="216.60" x2="342.00" y2="209.40" stroke="#000" stroke-width="0.9" />
<path d="M345.70,205.70 L343.28,211.45 L339.99,208.22 Z" fill="#000"/>
<text transform="translate(357.70,64.70) scale(1.0084,1)" fill="#000" ><tspan dy="0.00" font-size="9.30">triangular</tspan></text>
<text transform="translate(429.30,55.10) scale(0.9952,1)" fill="#000" ><tspan dy="0.00" font-size="9.30">start</tspan></text>
<text transform="translate(412.60,64.90) scale(1.0138,1)" fill="#000" ><tspan dy="0.00" font-size="9.30">double-peak</tspan></text>
<text transform="translate(498.50,54.60) scale(1.0884,1)" fill="#000" ><tspan dy="0.00" font-size="9.30">“shallow”</tspan></text>
<text transform="translate(493.10,64.90) scale(1.0216,1)" fill="#000" ><tspan dy="0.00" font-size="9.30">double-peak</tspan></text>
<text transform="translate(601.90,54.50) scale(1.0341,1)" fill="#000" ><tspan dy="0.00" font-size="9.30">“deep”</tspan></text>
<text transform="translate(589.50,64.90) scale(1.0216,1)" fill="#000" ><tspan dy="0.00" font-size="9.30">double-peak</tspan></text>
<text transform="translate(366.90,86.40) scale(0.9278,1)" fill="#000" ><tspan dy="0.00" font-size="10.50">Sr</tspan><tspan dy="2.30" font-size="7.56">1</tspan><tspan dy="-2.30" font-size="10.50">Ti</tspan><tspan dy="2.30" font-size="7.56">1</tspan></text>
<text transform="translate(424.60,86.40) scale(0.9379,1)" fill="#000" ><tspan dy="0.00" font-size="10.50">Sr</tspan><tspan dy="2.30" font-size="7.56">1.5</tspan><tspan dy="-2.30" font-size="10.50">Ti</tspan><tspan dy="2.30" font-size="7.56">1.5</tspan></text>
<text transform="translate(503.90,86.40) scale(1.0012,1)" fill="#000" ><tspan dy="0.00" font-size="10.50">Sr</tspan><tspan dy="2.30" font-size="7.56">2</tspan><tspan dy="-2.30" font-size="10.50">Ti</tspan><tspan dy="2.30" font-size="7.56">2</tspan></text>
<text transform="translate(597.10,86.30) scale(0.9479,1)" fill="#000" ><tspan dy="0.00" font-size="10.50">Sr</tspan><tspan dy="2.30" font-size="7.56">2.5</tspan><tspan dy="-2.30" font-size="10.50">Ti</tspan><tspan dy="2.30" font-size="7.56">2.5</tspan></text>
<text transform="translate(47.90,260.50) scale(0.8994,1)" fill="#000" ><tspan dy="0.00" font-size="12.80">Growth starting with excess SrO on TiO</tspan><tspan dy="3.58" font-size="9.22">2</tspan><tspan dy="-3.58" font-size="12.80"> surface</tspan></text>
<line x1="47.90" y1="262.40" x2="295.00" y2="262.40" stroke="#000" stroke-width="0.9" />
<text transform="translate(63.00,280.30) scale(1.0297,1)" fill="#000" ><tspan dy="0.00" font-size="9.50">“triangle”</tspan></text>
<text transform="translate(149.20,280.50) scale(0.9501,1)" fill="#000" ><tspan dy="0.00" font-size="9.50">“double peak”</tspan></text>
<text transform="translate(238.50,280.50) scale(1.0132,1)" fill="#000" ><tspan dy="0.00" font-size="9.50">“inverted triangle”</tspan></text>
<text transform="translate(8.30,347.00) rotate(-90) scale(0.8761,1)" fill="#000"  stroke="#000" stroke-width="0.18"><tspan dy="0.00" font-size="10.50">Diffracted</tspan></text>
<text transform="translate(19.80,344.50) rotate(-90) scale(0.8827,1)" fill="#000"  stroke="#000" stroke-width="0.18"><tspan dy="0.00" font-size="10.50">intensity</tspan></text>
<line x1="36.60" y1="291.00" x2="36.60" y2="440.40" stroke="#222" stroke-width="1" />
<path d="M36.60,289.40 L37.70,292.40 L35.50,292.40 Z" fill="#222"/>
<line x1="36.60" y1="440.40" x2="122.00" y2="440.40" stroke="#222" stroke-width="1" />
<path d="M123.80,440.40 L120.80,441.50 L120.80,439.30 Z" fill="#222"/>
<text transform="translate(34.00,324.60) scale(0.8262,1)" fill="#ff1010"  stroke="#ff1010" stroke-width="0.18"><tspan dy="0.00" font-size="8.20">+0.3 SrO</tspan></text>
<line x1="70.50" y1="321.40" x2="96.60" y2="321.40" stroke="#555" stroke-width="0.75" stroke-dasharray="2,1.4" />
<line x1="64.80" y1="321.40" x2="70.50" y2="321.40" stroke="#000" stroke-width="1.6" />
<line x1="86.70" y1="321.40" x2="93.10" y2="321.40" stroke="#000" stroke-width="1.6" />
<path d="M70.50,319.80 L70.75,317.85 L71.00,315.95 L71.25,314.13 L71.51,312.36 L71.76,310.67 L72.01,309.03 L72.26,307.46 L72.51,305.95 L72.76,304.51 L73.02,303.13 L73.27,301.82 L73.52,300.57 L73.77,299.38 L74.02,298.26 L74.27,297.20 L74.53,296.21 L74.78,295.28 L75.03,294.42 L75.28,293.62 L75.53,292.88 L75.78,292.21 L76.04,291.60 L76.29,291.05 L76.54,290.57 L76.79,290.15 L77.04,289.80 L77.29,289.51 L77.55,289.29 L77.80,289.13 L78.05,289.03 L78.30,289.00" stroke="#ff1010" stroke-width="1.7" fill="none" stroke-linejoin="round" stroke-linecap="round" />
<path d="M78.30,289.00 L78.55,289.03 L78.81,289.12 L79.06,289.27 L79.32,289.48 L79.57,289.74 L79.83,290.07 L80.08,290.46 L80.34,290.90 L80.59,291.41 L80.85,291.98 L81.10,292.60 L81.35,293.28 L81.61,294.03 L81.86,294.83 L82.12,295.69 L82.37,296.62 L82.63,297.60 L82.88,298.64 L83.14,299.74 L83.39,300.90 L83.65,302.12 L83.90,303.40 L84.15,304.74 L84.41,306.14 L84.66,307.60 L84.92,309.11 L85.17,310.69 L85.43,312.33 L85.68,314.02 L85.94,315.78 L86.19,317.59 L86.45,319.47 L86.70,321.40" stroke="#1d3df5" stroke-width="1.7" fill="none" stroke-linejoin="round" stroke-linecap="round" />
<line x1="67.50" y1="325.10" x2="67.50" y2="335.10" stroke="#ff1010" stroke-width="0.7" stroke-dasharray="1,0.9" />
<path d="M67.50,322.60 L68.90,325.60 L66.10,325.60 Z" fill="#ff1010"/>
<path d="M67.50,337.60 L66.10,334.60 L68.90,334.60 Z" fill="#ff1010"/>
<text transform="translate(47.90,341.80) scale(0.8586,1)" fill="#000"  stroke="#000" stroke-width="0.12"><tspan dy="0.00" font-size="8.20">TiO</tspan><tspan dy="2.30" font-size="5.90">2</tspan></text>
<line x1="64.40" y1="338.80" x2="101.80" y2="338.80" stroke="#bbb" stroke-width="1.1" stroke-dasharray="1.3,1" />
<text transform="translate(58.10,353.10) scale(0.8209,1)" fill="#ff1010"  stroke="#ff1010" stroke-width="0.32"><tspan dy="0.00" font-size="9.60">Sr</tspan><tspan dy="2.60" font-size="7.49">1</tspan></text>
<text transform="translate(85.50,353.10) scale(0.8471,1)" fill="#1d3df5"  stroke="#1d3df5" stroke-width="0.32"><tspan dy="0.00" font-size="9.60">Ti</tspan><tspan dy="2.60" font-size="7.49">1</tspan></text>
<line x1="35.20" y1="368.60" x2="40.10" y2="368.60" stroke="#222" stroke-width="0.8" />
<text transform="translate(5.90,371.80) scale(0.8292,1)" fill="#000"  stroke="#000" stroke-width="0.18"><tspan dy="0.00" font-size="8.20">+1.3 SrO</tspan></text>
<text transform="translate(8.20,402.30) scale(0.8171,1)" fill="#ff1010"  stroke="#ff1010" stroke-width="0.18"><tspan dy="0.00" font-size="8.20">+0.3 SrO</tspan></text>
<text transform="translate(18.60,422.20) scale(0.7460,1)" fill="#000"  stroke="#000" stroke-width="0.12"><tspan dy="0.00" font-size="11.00">TiO</tspan><tspan dy="3.08" font-size="7.92">2</tspan></text>
<line x1="52.90" y1="368.60" x2="102.80" y2="368.60" stroke="#555" stroke-width="0.75" stroke-dasharray="2,1.4" />
<line x1="46.00" y1="400.90" x2="111.20" y2="400.90" stroke="#555" stroke-width="0.75" stroke-dasharray="2,1.4" />
<line x1="46.60" y1="418.10" x2="108.10" y2="418.10" stroke="#555" stroke-width="0.75" stroke-dasharray="2,1.4" />
<line x1="77.70" y1="357.80" x2="77.70" y2="435.20" stroke="#999" stroke-width="0.8" stroke-dasharray="2.4,1.6" />
<line x1="40.10" y1="400.90" x2="46.00" y2="400.90" stroke="#000" stroke-width="1.8" />
<line x1="111.20" y1="400.90" x2="115.90" y2="400.90" stroke="#000" stroke-width="1.8" />
<line x1="38.20" y1="418.10" x2="46.60" y2="418.10" stroke="#000" stroke-width="1.8" />
<path d="M46.60,418.10 L46.85,415.77 L47.10,413.50 L47.36,411.28 L47.61,409.12 L47.86,407.02 L48.11,404.97 L48.37,402.98 L48.62,401.04 L48.87,399.16 L49.12,397.33 L49.38,395.57 L49.63,393.86 L49.88,392.20 L50.13,390.60 L50.39,389.06 L50.64,387.57 L50.89,386.14 L51.14,384.76 L51.40,383.44 L51.65,382.18 L51.90,380.98 L52.15,379.82 L52.40,378.73 L52.66,377.69 L52.91,376.71 L53.16,375.78 L53.41,374.91 L53.67,374.10 L53.92,373.34 L54.17,372.64 L54.42,372.00 L54.68,371.41 L54.93,370.87 L55.18,370.40 L55.43,369.98 L55.69,369.61 L55.94,369.30 L56.19,369.05 L56.44,368.85 L56.70,368.71 L56.95,368.63 L57.20,368.60 L57.45,368.62 L57.70,368.67 L57.95,368.76 L58.20,368.88 L58.45,369.04 L58.71,369.24 L58.96,369.47 L59.21,369.74 L59.46,370.04 L59.71,370.38 L59.96,370.75 L60.21,371.16 L60.46,371.60 L60.71,372.08 L60.96,372.60 L61.21,373.15 L61.46,373.73 L61.72,374.35 L61.97,375.01 L62.22,375.70 L62.47,376.43 L62.72,377.20 L62.97,377.99 L63.22,378.83 L63.47,379.70 L63.72,380.61 L63.97,381.55 L64.22,382.52 L64.48,383.54 L64.73,384.58 L64.98,385.67 L65.23,386.79 L65.48,387.94 L65.73,389.13 L65.98,390.36 L66.23,391.62 L66.48,392.91 L66.73,394.24 L66.98,395.61 L67.24,397.01 L67.49,398.45 L67.74,399.93 L67.99,401.44 L68.24,402.98 L68.49,404.56 L68.74,406.18 L68.99,407.83 L69.24,409.52 L69.49,411.24 L69.74,413.00 L69.99,414.79 L70.25,416.62 L70.50,418.49 L70.75,420.39 L71.00,422.32 L71.25,424.29 L71.50,426.30" stroke="#ff1010" stroke-width="0.9" fill="none" stroke-linejoin="round" stroke-linecap="butt" stroke-dasharray="2.4,1.4"/>
<line x1="71.50" y1="426.30" x2="83.80" y2="426.30" stroke="#666" stroke-width="1.0" stroke-dasharray="2.1,1" />
<path d="M83.80,426.30 L84.05,424.26 L84.30,422.25 L84.56,420.28 L84.81,418.35 L85.06,416.46 L85.31,414.60 L85.56,412.78 L85.81,410.99 L86.07,409.24 L86.32,407.53 L86.57,405.86 L86.82,404.22 L87.07,402.62 L87.33,401.06 L87.58,399.53 L87.83,398.04 L88.08,396.59 L88.33,395.17 L88.58,393.79 L88.84,392.45 L89.09,391.14 L89.34,389.87 L89.59,388.64 L89.84,387.44 L90.09,386.28 L90.35,385.16 L90.60,384.07 L90.85,383.03 L91.10,382.01 L91.35,381.04 L91.61,380.10 L91.86,379.20 L92.11,378.33 L92.36,377.51 L92.61,376.71 L92.86,375.96 L93.12,375.24 L93.37,374.56 L93.62,373.92 L93.87,373.31 L94.12,372.74 L94.38,372.21 L94.63,371.71 L94.88,371.25 L95.13,370.83 L95.38,370.44 L95.63,370.09 L95.89,369.78 L96.14,369.50 L96.39,369.26 L96.64,369.06 L96.89,368.89 L97.14,368.77 L97.40,368.67 L97.65,368.62 L97.90,368.60 L98.16,368.63 L98.41,368.72 L98.67,368.88 L98.92,369.10 L99.18,369.37 L99.43,369.71 L99.69,370.12 L99.94,370.58 L100.20,371.11 L100.45,371.69 L100.70,372.34 L100.96,373.06 L101.22,373.83 L101.47,374.66 L101.72,375.56 L101.98,376.52 L102.23,377.54 L102.49,378.62 L102.75,379.77 L103.00,380.98 L103.25,382.24 L103.51,383.57 L103.77,384.97 L104.02,386.42 L104.28,387.94 L104.53,389.51 L104.78,391.15 L105.04,392.85 L105.30,394.62 L105.55,396.44 L105.80,398.33 L106.06,400.28 L106.31,402.29 L106.57,404.36 L106.82,406.50 L107.08,408.70 L107.33,410.95 L107.59,413.27 L107.84,415.66 L108.10,418.10" stroke="#1d3df5" stroke-width="0.9" fill="none" stroke-linejoin="round" stroke-linecap="butt" stroke-dasharray="2.4,1.4"/>
<path d="M45.4,400.9 C47.5,388 49,373 52.9,368.6" stroke="#ff1010" stroke-width="1.7" fill="none" />
<path d="M102.8,368.6 C106.7,373 108.2,388 111.2,400.9" stroke="#1d3df5" stroke-width="1.7" fill="none" />
<line x1="42.70" y1="404.80" x2="42.70" y2="414.30" stroke="#ff1010" stroke-width="0.7" stroke-dasharray="1,0.9" />
<path d="M42.70,402.30 L44.10,405.30 L41.30,405.30 Z" fill="#ff1010"/>
<path d="M42.70,416.80 L41.30,413.80 L44.10,413.80 Z" fill="#ff1010"/>
<text transform="translate(71.10,448.60) scale(1.0141,1)" fill="#000"  stroke="#000" stroke-width="0.3"><tspan dy="0.00" font-size="9.50">time</tspan></text>
<text transform="translate(123.90,306.20) scale(0.9143,1)" fill="#ff1010"  stroke="#ff1010" stroke-width="0.18"><tspan dy="0.00" font-size="8.20">+0.8</tspan></text>
<text transform="translate(125.30,315.30) scale(0.9191,1)" fill="#ff1010"  stroke="#ff1010" stroke-width="0.18"><tspan dy="0.00" font-size="8.20">SrO</tspan></text>
<line x1="149.20" y1="308.20" x2="191.50" y2="308.20" stroke="#ff1010" stroke-width="0.6" stroke-dasharray="1.2,1.2" />
<line x1="143.00" y1="308.20" x2="149.20" y2="308.20" stroke="#000" stroke-width="1.6" />
<line x1="191.50" y1="308.20" x2="197.90" y2="308.20" stroke="#000" stroke-width="1.6" />
<path d="M148.60,308.20 L148.85,307.26 L149.10,306.33 L149.35,305.43 L149.60,304.56 L149.86,303.70 L150.11,302.87 L150.36,302.05 L150.61,301.26 L150.86,300.49 L151.11,299.75 L151.36,299.02 L151.61,298.32 L151.87,297.63 L152.12,296.97 L152.37,296.34 L152.62,295.72 L152.87,295.12 L153.12,294.55 L153.37,294.00 L153.62,293.47 L153.87,292.96 L154.13,292.48 L154.38,292.01 L154.63,291.57 L154.88,291.15 L155.13,290.75 L155.38,290.37 L155.63,290.02 L155.88,289.69 L156.13,289.37 L156.39,289.08 L156.64,288.82 L156.89,288.57 L157.14,288.35 L157.39,288.14 L157.64,287.96 L157.89,287.80 L158.14,287.67 L158.40,287.55 L158.65,287.46 L158.90,287.39 L159.15,287.34 L159.40,287.31 L159.65,287.30 L159.90,287.32 L160.15,287.35 L160.40,287.41 L160.66,287.49 L160.91,287.60 L161.16,287.72 L161.41,287.87 L161.66,288.03 L161.91,288.22 L162.16,288.43 L162.41,288.67 L162.67,288.92 L162.92,289.20 L163.17,289.50 L163.42,289.82 L163.67,290.16 L163.92,290.52 L164.17,290.91 L164.42,291.32 L164.67,291.75 L164.93,292.20 L165.18,292.67 L165.43,293.17 L165.68,293.68 L165.93,294.22 L166.18,294.78 L166.43,295.36 L166.68,295.97 L166.93,296.59 L167.19,297.24 L167.44,297.91 L167.69,298.60 L167.94,299.31 L168.19,300.05 L168.44,300.80 L168.69,301.58 L168.94,302.38 L169.20,303.20 L169.45,304.05 L169.70,304.91 L169.95,305.80 L170.20,306.71" stroke="#ff1010" stroke-width="1.7" fill="none" stroke-linejoin="round" stroke-linecap="round" />
<path d="M170.20,309.00 L170.45,308.00 L170.70,307.03 L170.95,306.08 L171.20,305.16 L171.45,304.25 L171.70,303.38 L171.95,302.52 L172.20,301.69 L172.46,300.88 L172.71,300.10 L172.96,299.33 L173.21,298.60 L173.46,297.88 L173.71,297.19 L173.96,296.52 L174.21,295.88 L174.46,295.26 L174.71,294.66 L174.96,294.08 L175.21,293.53 L175.46,293.00 L175.71,292.50 L175.96,292.02 L176.21,291.56 L176.46,291.13 L176.72,290.71 L176.97,290.33 L177.22,289.96 L177.47,289.62 L177.72,289.30 L177.97,289.01 L178.22,288.74 L178.47,288.49 L178.72,288.27 L178.97,288.07 L179.22,287.89 L179.47,287.73 L179.72,287.60 L179.97,287.50 L180.22,287.41 L180.47,287.35 L180.72,287.31 L180.98,287.30 L181.23,287.31 L181.48,287.34 L181.73,287.40 L181.98,287.48 L182.23,287.58 L182.48,287.71 L182.73,287.86 L182.98,288.03 L183.23,288.23 L183.48,288.45 L183.73,288.69 L183.98,288.95 L184.23,289.24 L184.48,289.56 L184.73,289.89 L184.98,290.25 L185.24,290.64 L185.49,291.04 L185.74,291.47 L185.99,291.93 L186.24,292.40 L186.49,292.90 L186.74,293.43 L186.99,293.97 L187.24,294.54 L187.49,295.14 L187.74,295.75 L187.99,296.39 L188.24,297.06 L188.49,297.74 L188.74,298.45 L188.99,299.19 L189.24,299.94 L189.50,300.72 L189.75,301.53 L190.00,302.35 L190.25,303.21 L190.50,304.08 L190.75,304.98 L191.00,305.90 L191.25,306.84 L191.50,307.81" stroke="#1d3df5" stroke-width="1.7" fill="none" stroke-linejoin="round" stroke-linecap="round" />
<line x1="147.40" y1="312.10" x2="147.40" y2="334.80" stroke="#ff1010" stroke-width="0.7" stroke-dasharray="1,0.9" />
<path d="M147.40,309.60 L148.80,312.60 L146.00,312.60 Z" fill="#ff1010"/>
<path d="M147.40,337.30 L146.00,334.30 L148.80,334.30 Z" fill="#ff1010"/>
<text transform="translate(126.50,340.00) scale(0.8278,1)" fill="#000"  stroke="#000" stroke-width="0.12"><tspan dy="0.00" font-size="8.20">TiO</tspan><tspan dy="2.30" font-size="5.90">2</tspan></text>
<line x1="145.70" y1="337.10" x2="202.30" y2="337.10" stroke="#555" stroke-width="0.75" stroke-dasharray="2,1.4" />
<text transform="translate(151.40,351.90) scale(0.7991,1)" fill="#ff1010"  stroke="#ff1010" stroke-width="0.32"><tspan dy="0.00" font-size="9.60">Sr</tspan><tspan dy="2.60" font-size="7.49">1</tspan></text>
<text transform="translate(179.30,351.90) scale(0.8555,1)" fill="#1d3df5"  stroke="#1d3df5" stroke-width="0.32"><tspan dy="0.00" font-size="9.60">Ti</tspan><tspan dy="2.60" font-size="7.49">1</tspan></text>
<line x1="131.00" y1="346.00" x2="131.00" y2="441.00" stroke="#222" stroke-width="1" />
<path d="M131.00,344.20 L132.10,347.20 L129.90,347.20 Z" fill="#222"/>
<line x1="131.00" y1="441.00" x2="217.00" y2="441.00" stroke="#222" stroke-width="1" />
<path d="M218.80,441.00 L215.80,442.10 L215.80,439.90 Z" fill="#222"/>
<text transform="translate(113.40,381.80) scale(0.9204,1)" fill="#ff1010"  stroke="#ff1010" stroke-width="0.18"><tspan dy="0.00" font-size="8.20">+0.8</tspan></text>
<text transform="translate(115.00,390.90) scale(0.8780,1)" fill="#ff1010"  stroke="#ff1010" stroke-width="0.18"><tspan dy="0.00" font-size="8.20">SrO</tspan></text>
<line x1="162.90" y1="382.90" x2="179.60" y2="382.90" stroke="#555" stroke-width="0.75" stroke-dasharray="2,1.4" />
<line x1="139.70" y1="418.30" x2="202.90" y2="418.30" stroke="#555" stroke-width="0.75" stroke-dasharray="2,1.4" />
<line x1="170.50" y1="357.10" x2="170.50" y2="434.70" stroke="#999" stroke-width="0.8" stroke-dasharray="2.4,1.6" />
<line x1="135.10" y1="382.90" x2="140.80" y2="382.90" stroke="#000" stroke-width="1.8" />
<line x1="201.70" y1="382.90" x2="208.10" y2="382.90" stroke="#000" stroke-width="1.8" />
<line x1="131.00" y1="418.30" x2="139.70" y2="418.30" stroke="#000" stroke-width="1.8" />
<line x1="202.90" y1="418.30" x2="211.50" y2="418.30" stroke="#000" stroke-width="1.8" />
<path d="M139.70,418.30 L139.95,416.16 L140.20,414.06 L140.46,412.02 L140.71,410.02 L140.96,408.06 L141.21,406.16 L141.47,404.30 L141.72,402.48 L141.97,400.72 L142.22,399.00 L142.47,397.33 L142.73,395.71 L142.98,394.13 L143.23,392.60 L143.48,391.12 L143.73,389.68 L143.99,388.29 L144.24,386.95 L144.49,385.66 L144.74,384.41 L145.00,383.21 L145.25,382.06 L145.50,380.95 L145.75,379.89 L146.00,378.88 L146.26,377.91 L146.51,377.00 L146.76,376.13 L147.01,375.30 L147.27,374.52 L147.52,373.80 L147.77,373.11 L148.02,372.48 L148.27,371.89 L148.53,371.35 L148.78,370.85 L149.03,370.41 L149.28,370.01 L149.53,369.65 L149.79,369.35 L150.04,369.09 L150.29,368.88 L150.54,368.71 L150.80,368.59 L151.05,368.52 L151.30,368.50 L151.55,368.52 L151.80,368.58 L152.05,368.68 L152.30,368.82 L152.55,368.99 L152.80,369.21 L153.05,369.47 L153.30,369.77 L153.55,370.10 L153.80,370.48 L154.05,370.89 L154.30,371.35 L154.55,371.84 L154.80,372.38 L155.05,372.95 L155.30,373.57 L155.55,374.22 L155.80,374.91 L156.05,375.64 L156.30,376.41 L156.55,377.23 L156.80,378.08 L157.05,378.97 L157.30,379.90 L157.55,380.87 L157.80,381.88 L158.05,382.93 L158.30,384.01 L158.55,385.14 L158.80,386.31 L159.05,387.52 L159.30,388.76 L159.55,390.05 L159.80,391.37 L160.05,392.74 L160.30,394.14 L160.55,395.59 L160.80,397.07 L161.05,398.60 L161.30,400.16 L161.55,401.76 L161.80,403.40 L162.05,405.09 L162.30,406.81 L162.55,408.57 L162.80,410.37 L163.05,412.21 L163.30,414.09 L163.55,416.01 L163.80,417.97 L164.05,419.97 L164.30,422.01 L164.55,424.08 L164.80,426.20" stroke="#ff1010" stroke-width="0.9" fill="none" stroke-linejoin="round" stroke-linecap="butt" stroke-dasharray="2.4,1.4"/>
<line x1="164.80" y1="426.20" x2="177.30" y2="426.20" stroke="#666" stroke-width="1.0" stroke-dasharray="2.1,1" />
<path d="M177.30,426.20 L177.55,424.08 L177.81,422.01 L178.06,419.97 L178.31,417.97 L178.57,416.01 L178.82,414.09 L179.08,412.21 L179.33,410.37 L179.58,408.57 L179.84,406.81 L180.09,405.09 L180.34,403.40 L180.60,401.76 L180.85,400.16 L181.11,398.60 L181.36,397.07 L181.61,395.59 L181.87,394.14 L182.12,392.74 L182.37,391.37 L182.63,390.05 L182.88,388.76 L183.14,387.52 L183.39,386.31 L183.64,385.14 L183.90,384.01 L184.15,382.93 L184.40,381.88 L184.66,380.87 L184.91,379.90 L185.16,378.97 L185.42,378.08 L185.67,377.23 L185.93,376.41 L186.18,375.64 L186.43,374.91 L186.69,374.22 L186.94,373.57 L187.19,372.95 L187.45,372.38 L187.70,371.84 L187.96,371.35 L188.21,370.89 L188.46,370.48 L188.72,370.10 L188.97,369.77 L189.22,369.47 L189.48,369.21 L189.73,368.99 L189.99,368.82 L190.24,368.68 L190.49,368.58 L190.75,368.52 L191.00,368.50 L191.25,368.52 L191.51,368.59 L191.76,368.70 L192.01,368.86 L192.27,369.06 L192.52,369.31 L192.77,369.60 L193.03,369.94 L193.28,370.33 L193.53,370.75 L193.79,371.23 L194.04,371.75 L194.29,372.31 L194.54,372.92 L194.80,373.57 L195.05,374.27 L195.30,375.02 L195.56,375.80 L195.81,376.64 L196.06,377.52 L196.32,378.44 L196.57,379.41 L196.82,380.43 L197.08,381.49 L197.33,382.59 L197.58,383.74 L197.84,384.93 L198.09,386.17 L198.34,387.46 L198.60,388.79 L198.85,390.16 L199.10,391.59 L199.36,393.05 L199.61,394.56 L199.86,396.12 L200.11,397.72 L200.37,399.36 L200.62,401.05 L200.87,402.79 L201.13,404.57 L201.38,406.40 L201.63,408.27 L201.89,410.18 L202.14,412.15 L202.39,414.15 L202.65,416.20 L202.90,418.30" stroke="#1d3df5" stroke-width="0.9" fill="none" stroke-linejoin="round" stroke-linecap="butt" stroke-dasharray="2.4,1.4"/>
<path d="M140.80,382.90 L141.05,381.92 L141.31,380.97 L141.56,380.03 L141.82,379.13 L142.07,378.24 L142.33,377.38 L142.58,376.54 L142.84,375.73 L143.09,374.94 L143.35,374.17 L143.60,373.43 L143.86,372.71 L144.11,372.02 L144.37,371.34 L144.62,370.70 L144.88,370.07 L145.13,369.47 L145.39,368.89 L145.64,368.34 L145.90,367.81 L146.15,367.30 L146.40,366.82 L146.66,366.36 L146.91,365.92 L147.17,365.51 L147.42,365.12 L147.68,364.75 L147.93,364.41 L148.19,364.09 L148.44,363.80 L148.70,363.53 L148.95,363.28 L149.21,363.06 L149.46,362.85 L149.72,362.68 L149.97,362.52 L150.23,362.39 L150.48,362.29 L150.74,362.21 L150.99,362.15 L151.25,362.11 L151.50,362.10 L151.75,362.11 L152.01,362.14 L152.26,362.19 L152.51,362.26 L152.77,362.36 L153.02,362.47 L153.27,362.60 L153.53,362.76 L153.78,362.93 L154.03,363.13 L154.29,363.34 L154.54,363.58 L154.79,363.84 L155.05,364.11 L155.30,364.41 L155.55,364.73 L155.81,365.07 L156.06,365.43 L156.31,365.81 L156.57,366.21 L156.82,366.63 L157.07,367.07 L157.33,367.53 L157.58,368.02 L157.83,368.52 L158.09,369.04 L158.34,369.59 L158.59,370.15 L158.85,370.74 L159.10,371.34 L159.35,371.97 L159.61,372.62 L159.86,373.29 L160.11,373.97 L160.37,374.68 L160.62,375.41 L160.87,376.16 L161.13,376.93 L161.38,377.72 L161.63,378.53 L161.89,379.37 L162.14,380.22 L162.39,381.09 L162.65,381.99 L162.90,382.90" stroke="#ff1010" stroke-width="1.7" fill="none" stroke-linejoin="round" stroke-linecap="round" />
<path d="M179.60,382.90 L179.85,381.99 L180.11,381.09 L180.36,380.22 L180.61,379.37 L180.87,378.53 L181.12,377.72 L181.37,376.93 L181.63,376.16 L181.88,375.41 L182.13,374.68 L182.39,373.97 L182.64,373.29 L182.89,372.62 L183.15,371.97 L183.40,371.34 L183.65,370.74 L183.91,370.15 L184.16,369.59 L184.41,369.04 L184.67,368.52 L184.92,368.02 L185.17,367.53 L185.43,367.07 L185.68,366.63 L185.93,366.21 L186.19,365.81 L186.44,365.43 L186.69,365.07 L186.95,364.73 L187.20,364.41 L187.45,364.11 L187.71,363.84 L187.96,363.58 L188.21,363.34 L188.47,363.13 L188.72,362.93 L188.97,362.76 L189.23,362.60 L189.48,362.47 L189.73,362.36 L189.99,362.26 L190.24,362.19 L190.49,362.14 L190.75,362.11 L191.00,362.10 L191.25,362.11 L191.51,362.15 L191.76,362.21 L192.02,362.29 L192.27,362.39 L192.53,362.52 L192.78,362.68 L193.04,362.85 L193.29,363.06 L193.55,363.28 L193.80,363.53 L194.06,363.80 L194.31,364.09 L194.57,364.41 L194.82,364.75 L195.08,365.12 L195.33,365.51 L195.59,365.92 L195.84,366.36 L196.10,366.82 L196.35,367.30 L196.60,367.81 L196.86,368.34 L197.11,368.89 L197.37,369.47 L197.62,370.07 L197.88,370.70 L198.13,371.34 L198.39,372.02 L198.64,372.71 L198.90,373.43 L199.15,374.17 L199.41,374.94 L199.66,375.73 L199.92,376.54 L200.17,377.38 L200.43,378.24 L200.68,379.13 L200.94,380.03 L201.19,380.97 L201.45,381.92 L201.70,382.90" stroke="#1d3df5" stroke-width="1.7" fill="none" stroke-linejoin="round" stroke-linecap="round" />
<line x1="136.70" y1="387.00" x2="136.70" y2="413.90" stroke="#ff1010" stroke-width="0.7" stroke-dasharray="1,0.9" />
<path d="M136.70,384.50 L138.10,387.50 L135.30,387.50 Z" fill="#ff1010"/>
<path d="M136.70,416.40 L135.30,413.40 L138.10,413.40 Z" fill="#ff1010"/>
<text transform="translate(163.20,449.10) scale(1.0419,1)" fill="#000"  stroke="#000" stroke-width="0.3"><tspan dy="0.00" font-size="9.50">time</tspan></text>
<text transform="translate(216.60,290.00) scale(0.9760,1)" fill="#ff1010"  stroke="#ff1010" stroke-width="0.18"><tspan dy="0.00" font-size="8.20">+1.3</tspan></text>
<text transform="translate(218.40,299.10) scale(0.9603,1)" fill="#ff1010"  stroke="#ff1010" stroke-width="0.18"><tspan dy="0.00" font-size="8.20">SrO</tspan></text>
<line x1="233.30" y1="289.10" x2="301.60" y2="289.10" stroke="#ff1010" stroke-width="0.6" stroke-dasharray="1.2,1.2" />
<line x1="245.90" y1="289.10" x2="252.60" y2="289.10" stroke="#000" stroke-width="1.6" />
<line x1="276.20" y1="289.10" x2="284.10" y2="289.10" stroke="#000" stroke-width="1.6" />
<path d="M252.6,289.1 C257.5,289.5 260.5,300 264.5,322" stroke="#ff1010" stroke-width="1.7" fill="none" />
<path d="M264.5,322 C268,305 271,289.5 276.2,289.1" stroke="#1d3df5" stroke-width="1.7" fill="none" />
<line x1="248.70" y1="292.30" x2="248.70" y2="334.60" stroke="#ff1010" stroke-width="0.7" stroke-dasharray="1,0.9" />
<path d="M248.70,289.80 L250.10,292.80 L247.30,292.80 Z" fill="#ff1010"/>
<path d="M248.70,337.10 L247.30,334.10 L250.10,334.10 Z" fill="#ff1010"/>
<text transform="translate(225.40,340.00) scale(0.8339,1)" fill="#000"  stroke="#000" stroke-width="0.12"><tspan dy="0.00" font-size="8.20">TiO</tspan><tspan dy="2.30" font-size="5.90">2</tspan></text>
<line x1="243.80" y1="337.30" x2="291.10" y2="337.30" stroke="#555" stroke-width="0.75" stroke-dasharray="2,1.4" />
<text transform="translate(245.50,352.20) scale(0.8354,1)" fill="#ff1010"  stroke="#ff1010" stroke-width="0.32"><tspan dy="0.00" font-size="9.60">Sr</tspan><tspan dy="2.60" font-size="7.49">1</tspan></text>
<text transform="translate(271.00,352.20) scale(0.8640,1)" fill="#1d3df5"  stroke="#1d3df5" stroke-width="0.32"><tspan dy="0.00" font-size="9.60">Ti</tspan><tspan dy="2.60" font-size="7.49">1</tspan></text>
<line x1="224.40" y1="346.00" x2="224.40" y2="441.00" stroke="#222" stroke-width="1" />
<path d="M224.40,344.00 L225.50,347.00 L223.30,347.00 Z" fill="#222"/>
<line x1="224.40" y1="441.00" x2="311.00" y2="441.00" stroke="#222" stroke-width="1" />
<path d="M312.80,441.00 L309.80,442.10 L309.80,439.90 Z" fill="#222"/>
<text transform="translate(209.00,366.40) scale(0.9204,1)" fill="#ff1010"  stroke="#ff1010" stroke-width="0.18"><tspan dy="0.00" font-size="8.20">+1.3</tspan></text>
<text transform="translate(210.80,375.30) scale(0.8986,1)" fill="#ff1010"  stroke="#ff1010" stroke-width="0.18"><tspan dy="0.00" font-size="8.20">SrO</tspan></text>
<line x1="244.20" y1="366.80" x2="299.20" y2="366.80" stroke="#555" stroke-width="0.75" stroke-dasharray="2,1.4" />
<line x1="257.40" y1="399.80" x2="272.90" y2="399.80" stroke="#555" stroke-width="0.75" stroke-dasharray="2,1.4" />
<line x1="233.50" y1="418.20" x2="296.80" y2="418.20" stroke="#555" stroke-width="0.75" stroke-dasharray="2,1.4" />
<line x1="264.00" y1="356.70" x2="264.00" y2="435.60" stroke="#999" stroke-width="0.8" stroke-dasharray="2.4,1.6" />
<line x1="229.20" y1="366.80" x2="244.20" y2="366.80" stroke="#000" stroke-width="1.8" />
<line x1="283.70" y1="366.80" x2="292.00" y2="366.80" stroke="#000" stroke-width="1.8" />
<line x1="225.10" y1="418.20" x2="233.50" y2="418.20" stroke="#000" stroke-width="1.8" />
<line x1="296.80" y1="418.20" x2="305.20" y2="418.20" stroke="#000" stroke-width="1.8" />
<path d="M233.50,418.20 L233.75,416.04 L234.01,413.92 L234.26,411.85 L234.51,409.82 L234.77,407.85 L235.02,405.91 L235.27,404.03 L235.53,402.19 L235.78,400.40 L236.03,398.65 L236.29,396.96 L236.54,395.30 L236.79,393.70 L237.04,392.14 L237.30,390.63 L237.55,389.16 L237.80,387.74 L238.06,386.37 L238.31,385.04 L238.56,383.76 L238.82,382.53 L239.07,381.34 L239.32,380.20 L239.58,379.11 L239.83,378.06 L240.08,377.06 L240.34,376.11 L240.59,375.20 L240.84,374.34 L241.10,373.52 L241.35,372.76 L241.60,372.04 L241.86,371.36 L242.11,370.73 L242.36,370.15 L242.61,369.62 L242.87,369.13 L243.12,368.68 L243.37,368.29 L243.63,367.94 L243.88,367.64 L244.13,367.38 L244.39,367.17 L244.64,367.01 L244.89,366.89 L245.15,366.82 L245.40,366.80 L245.65,366.82 L245.91,366.89 L246.16,367.00 L246.42,367.15 L246.67,367.35 L246.92,367.59 L247.18,367.87 L247.43,368.20 L247.68,368.58 L247.94,368.99 L248.19,369.45 L248.45,369.96 L248.70,370.51 L248.95,371.10 L249.21,371.73 L249.46,372.41 L249.72,373.14 L249.97,373.91 L250.22,374.72 L250.48,375.57 L250.73,376.47 L250.98,377.41 L251.24,378.40 L251.49,379.43 L251.75,380.51 L252.00,381.62 L252.25,382.79 L252.51,383.99 L252.76,385.24 L253.02,386.54 L253.27,387.88 L253.52,389.26 L253.78,390.68 L254.03,392.15 L254.28,393.66 L254.54,395.22 L254.79,396.82 L255.05,398.47 L255.30,400.16 L255.55,401.89 L255.81,403.67 L256.06,405.49 L256.32,407.35 L256.57,409.26 L256.82,411.21 L257.08,413.20 L257.33,415.24 L257.58,417.33 L257.84,419.46 L258.09,421.63 L258.35,423.84 L258.60,426.10" stroke="#ff1010" stroke-width="0.9" fill="none" stroke-linejoin="round" stroke-linecap="butt" stroke-dasharray="2.4,1.4"/>
<line x1="258.60" y1="426.10" x2="271.70" y2="426.10" stroke="#666" stroke-width="1.0" stroke-dasharray="2.1,1" />
<path d="M271.70,426.10 L271.95,423.75 L272.20,421.45 L272.45,419.20 L272.70,416.99 L272.95,414.83 L273.20,412.72 L273.45,410.66 L273.70,408.64 L273.95,406.67 L274.20,404.75 L274.45,402.88 L274.70,401.05 L274.95,399.27 L275.20,397.54 L275.45,395.86 L275.70,394.22 L275.95,392.63 L276.20,391.09 L276.45,389.59 L276.70,388.15 L276.95,386.75 L277.20,385.40 L277.45,384.09 L277.70,382.83 L277.95,381.62 L278.20,380.46 L278.45,379.35 L278.70,378.28 L278.95,377.26 L279.20,376.29 L279.45,375.36 L279.70,374.49 L279.95,373.66 L280.20,372.87 L280.45,372.14 L280.70,371.45 L280.95,370.81 L281.20,370.22 L281.45,369.67 L281.70,369.17 L281.95,368.72 L282.20,368.32 L282.45,367.96 L282.70,367.65 L282.95,367.39 L283.20,367.18 L283.45,367.01 L283.70,366.89 L283.95,366.82 L284.20,366.80 L284.45,366.82 L284.70,366.88 L284.96,366.99 L285.21,367.13 L285.46,367.31 L285.71,367.54 L285.96,367.81 L286.22,368.12 L286.47,368.47 L286.72,368.86 L286.97,369.29 L287.22,369.76 L287.48,370.27 L287.73,370.83 L287.98,371.43 L288.23,372.06 L288.48,372.74 L288.74,373.46 L288.99,374.22 L289.24,375.02 L289.49,375.87 L289.74,376.75 L290.00,377.68 L290.25,378.64 L290.50,379.65 L290.75,380.70 L291.00,381.79 L291.26,382.92 L291.51,384.09 L291.76,385.30 L292.01,386.56 L292.26,387.85 L292.52,389.19 L292.77,390.57 L293.02,391.99 L293.27,393.45 L293.52,394.95 L293.78,396.49 L294.03,398.07 L294.28,399.70 L294.53,401.36 L294.78,403.07 L295.04,404.82 L295.29,406.60 L295.54,408.43 L295.79,410.30 L296.04,412.22 L296.30,414.17 L296.55,416.16 L296.80,418.20" stroke="#1d3df5" stroke-width="0.9" fill="none" stroke-linejoin="round" stroke-linecap="butt" stroke-dasharray="2.4,1.4"/>
<path d="M244.2,366.8 C249,367 253,382 257.4,399.8" stroke="#ff1010" stroke-width="1.7" fill="none" />
<path d="M272.9,399.8 C276,384 279,367 283.7,366.8" stroke="#1d3df5" stroke-width="1.7" fill="none" />
<line x1="229.90" y1="371.20" x2="229.90" y2="414.00" stroke="#ff1010" stroke-width="0.7" stroke-dasharray="1,0.9" />
<path d="M229.90,368.70 L231.30,371.70 L228.50,371.70 Z" fill="#ff1010"/>
<path d="M229.90,416.50 L228.50,413.50 L231.30,413.50 Z" fill="#ff1010"/>
<text transform="translate(257.80,448.80) scale(1.1088,1)" fill="#000"  stroke="#000" stroke-width="0.3"><tspan dy="0.00" font-size="9.50">time</tspan></text>
<path d="M342.60,421.00 L344.60,419.80 L347.00,420.60" stroke="#111" stroke-width="1.6" fill="none" stroke-linejoin="round" stroke-linecap="round" />
<path d="M347.00,420.60 L348.30,411.90 L349.20,392.00 L350.10,346.00 L350.60,344.00" stroke="#ff1010" stroke-width="1.35" fill="none" stroke-linejoin="round" stroke-linecap="round" />
<path d="M350.60,344.00 L351.20,345.00 L353.50,392.00 L354.30,414.00 L354.90,421.50" stroke="#2563ff" stroke-width="1.35" fill="none" stroke-linejoin="round" stroke-linecap="round" />
<path d="M354.90,421.80 L357.10,422.00" stroke="#111" stroke-width="1.6" fill="none" stroke-linejoin="round" stroke-linecap="round" />
<path d="M357.10,422.00 L358.40,407.50 L359.30,390.00 L360.20,344.00 L360.50,342.00" stroke="#ff1010" stroke-width="1.35" fill="none" stroke-linejoin="round" stroke-linecap="round" />
<path d="M360.50,342.00 L361.10,343.50 L363.60,392.00 L364.50,416.30 L365.40,422.40" stroke="#2563ff" stroke-width="1.35" fill="none" stroke-linejoin="round" stroke-linecap="round" />
<path d="M365.40,422.40 L367.30,422.20" stroke="#111" stroke-width="1.6" fill="none" stroke-linejoin="round" stroke-linecap="round" />
<path d="M367.30,421.50 L368.90,398.80 L370.00,345.00 L370.40,341.00" stroke="#ff1010" stroke-width="1.35" fill="none" stroke-linejoin="round" stroke-linecap="round" />
<path d="M370.40,341.00 L371.00,342.00 L373.70,392.00 L374.60,416.30 L375.50,423.30" stroke="#2563ff" stroke-width="1.35" fill="none" stroke-linejoin="round" stroke-linecap="round" />
<path d="M375.50,423.50 L376.80,423.70" stroke="#111" stroke-width="1.6" fill="none" stroke-linejoin="round" stroke-linecap="round" />
<path d="M376.80,423.70 L379.00,419.30" stroke="#ff1010" stroke-width="1.35" fill="none" stroke-linejoin="round" stroke-linecap="round" />
<path d="M379.00,419.30 L380.50,417.50 L383.50,415.80" stroke="#111" stroke-width="1.6" fill="none" stroke-linejoin="round" stroke-linecap="round" />
<path d="M383.80,415.40 L385.00,410.00 L385.50,390.00 L387.20,337.20" stroke="#ff1010" stroke-width="1.35" fill="none" stroke-linejoin="round" stroke-linecap="round" />
<path d="M387.20,337.20 L388.70,327.80 L389.50,330.00 L392.60,403.50" stroke="#2563ff" stroke-width="1.35" fill="none" stroke-linejoin="round" stroke-linecap="round" />
<path d="M392.60,403.50 L394.80,403.30" stroke="#111" stroke-width="1.6" fill="none" stroke-linejoin="round" stroke-linecap="round" />
<path d="M394.80,402.40 L396.00,395.00 L397.40,338.30" stroke="#ff1010" stroke-width="1.35" fill="none" stroke-linejoin="round" stroke-linecap="round" />
<path d="M397.40,338.30 L398.90,329.60 L399.70,332.00 L402.40,398.70" stroke="#2563ff" stroke-width="1.35" fill="none" stroke-linejoin="round" stroke-linecap="round" />
<path d="M402.40,398.70 L405.00,398.70" stroke="#111" stroke-width="1.6" fill="none" stroke-linejoin="round" stroke-linecap="round" />
<path d="M405.00,398.00 L406.20,390.00 L407.80,338.30" stroke="#ff1010" stroke-width="1.35" fill="none" stroke-linejoin="round" stroke-linecap="round" />
<path d="M407.80,338.30 L408.90,331.30 L409.70,334.00 L412.20,397.00" stroke="#2563ff" stroke-width="1.35" fill="none" stroke-linejoin="round" stroke-linecap="round" />
<path d="M412.20,397.00 L414.30,397.00" stroke="#111" stroke-width="1.6" fill="none" stroke-linejoin="round" stroke-linecap="round" />
<path d="M414.30,396.50 L416.50,387.20" stroke="#ff1010" stroke-width="1.35" fill="none" stroke-linejoin="round" stroke-linecap="round" />
<path d="M416.50,387.20 L417.50,385.50 L420.90,385.00" stroke="#111" stroke-width="1.6" fill="none" stroke-linejoin="round" stroke-linecap="round" />
<path d="M421.20,385.00 L422.50,370.00 L424.10,340.40 L425.20,351.30" stroke="#ff1010" stroke-width="1.35" fill="none" stroke-linejoin="round" stroke-linecap="round" />
<path d="M425.20,351.30 L427.00,319.10 L427.60,322.00 L429.60,369.80" stroke="#2563ff" stroke-width="1.35" fill="none" stroke-linejoin="round" stroke-linecap="round" />
<path d="M429.60,369.80 L432.40,369.80" stroke="#111" stroke-width="1.6" fill="none" stroke-linejoin="round" stroke-linecap="round" />
<path d="M432.60,368.70 L433.50,360.00 L435.00,344.60 L435.70,355.40" stroke="#ff1010" stroke-width="1.35" fill="none" stroke-linejoin="round" stroke-linecap="round" />
<path d="M435.70,355.40 L437.20,322.80 L437.80,326.00 L440.00,367.40" stroke="#2563ff" stroke-width="1.35" fill="none" stroke-linejoin="round" stroke-linecap="round" />
<path d="M440.00,367.40 L442.20,367.00" stroke="#111" stroke-width="1.6" fill="none" stroke-linejoin="round" stroke-linecap="round" />
<path d="M442.20,366.30 L443.20,358.00 L444.80,343.50 L445.40,354.30" stroke="#ff1010" stroke-width="1.35" fill="none" stroke-linejoin="round" stroke-linecap="round" />
<path d="M445.40,354.30 L447.30,324.30 L447.90,327.00 L450.40,366.30" stroke="#2563ff" stroke-width="1.35" fill="none" stroke-linejoin="round" stroke-linecap="round" />
<path d="M450.40,366.30 L453.00,366.30 L455.70,354.00 L459.60,352.00" stroke="#111" stroke-width="1.6" fill="none" stroke-linejoin="round" stroke-linecap="round" />
<path d="M459.60,352.00 L460.30,351.40 L461.50,350.80 L462.20,351.40 L463.20,365.00 L464.00,385.90" stroke="#ff1010" stroke-width="1.35" fill="none" stroke-linejoin="round" stroke-linecap="round" />
<path d="M464.00,385.90 L465.60,316.70 L466.50,330.00 L467.40,341.50" stroke="#2563ff" stroke-width="1.35" fill="none" stroke-linejoin="round" stroke-linecap="round" />
<path d="M467.40,341.50 L471.30,343.50" stroke="#111" stroke-width="1.6" fill="none" stroke-linejoin="round" stroke-linecap="round" />
<path d="M471.30,343.50 L471.80,344.10 L472.80,365.00 L473.40,387.20" stroke="#ff1010" stroke-width="1.35" fill="none" stroke-linejoin="round" stroke-linecap="round" />
<path d="M473.40,387.20 L475.20,318.00 L476.10,330.00 L477.00,341.50" stroke="#2563ff" stroke-width="1.35" fill="none" stroke-linejoin="round" stroke-linecap="round" />
<path d="M477.00,341.50 L479.70,342.80" stroke="#111" stroke-width="1.6" fill="none" stroke-linejoin="round" stroke-linecap="round" />
<path d="M479.70,343.00 L480.40,344.00 L481.80,365.00 L483.00,384.60" stroke="#ff1010" stroke-width="1.35" fill="none" stroke-linejoin="round" stroke-linecap="round" />
<path d="M483.00,384.60 L485.70,318.00 L486.60,330.00 L487.50,341.50" stroke="#2563ff" stroke-width="1.35" fill="none" stroke-linejoin="round" stroke-linecap="round" />
<path d="M487.50,342.00 L490.00,340.00 L492.20,337.60 L496.10,336.30" stroke="#111" stroke-width="1.6" fill="none" stroke-linejoin="round" stroke-linecap="round" />
<path d="M496.10,336.30 L497.50,340.00 L499.50,380.00 L501.30,414.60" stroke="#ff1010" stroke-width="1.35" fill="none" stroke-linejoin="round" stroke-linecap="round" />
<path d="M501.30,414.60 L503.50,360.00 L504.70,316.40" stroke="#2563ff" stroke-width="1.35" fill="none" stroke-linejoin="round" stroke-linecap="round" />
<path d="M504.70,318.50 L508.40,319.80" stroke="#111" stroke-width="1.6" fill="none" stroke-linejoin="round" stroke-linecap="round" />
<path d="M508.40,320.40 L510.50,370.00 L512.10,411.80" stroke="#ff1010" stroke-width="1.35" fill="none" stroke-linejoin="round" stroke-linecap="round" />
<path d="M512.10,411.80 L514.00,360.00 L514.90,317.50" stroke="#2563ff" stroke-width="1.35" fill="none" stroke-linejoin="round" stroke-linecap="round" />
<path d="M514.90,318.50 L517.70,319.80" stroke="#111" stroke-width="1.6" fill="none" stroke-linejoin="round" stroke-linecap="round" />
<path d="M517.70,320.40 L520.00,370.00 L521.70,412.60" stroke="#ff1010" stroke-width="1.35" fill="none" stroke-linejoin="round" stroke-linecap="round" />
<path d="M521.70,412.60 L524.00,360.00 L525.40,316.40 L526.00,317.70" stroke="#2563ff" stroke-width="1.35" fill="none" stroke-linejoin="round" stroke-linecap="round" />
<path d="M526.00,318.00 L528.50,318.70" stroke="#111" stroke-width="1.6" fill="none" stroke-linejoin="round" stroke-linecap="round" />
<path d="M528.50,319.70 L529.90,343.10" stroke="#2563ff" stroke-width="1.35" fill="none" stroke-linejoin="round" stroke-linecap="round" />
<path d="M529.90,344.10 L535.70,344.10" stroke="#111" stroke-width="1.6" fill="none" stroke-linejoin="round" stroke-linecap="round" />
<path d="M535.70,344.10 L537.00,344.50 L538.50,360.00 L539.70,387.10" stroke="#ff1010" stroke-width="1.35" fill="none" stroke-linejoin="round" stroke-linecap="round" />
<path d="M539.70,387.10 L542.60,318.30 L543.50,330.00 L544.50,340.20" stroke="#2563ff" stroke-width="1.35" fill="none" stroke-linejoin="round" stroke-linecap="round" />
<path d="M544.50,341.20 L546.10,341.20" stroke="#111" stroke-width="1.6" fill="none" stroke-linejoin="round" stroke-linecap="round" />
<path d="M546.10,340.20 L547.50,342.00 L549.00,365.00 L550.00,386.70" stroke="#ff1010" stroke-width="1.35" fill="none" stroke-linejoin="round" stroke-linecap="round" />
<path d="M550.00,386.70 L552.40,318.30 L553.50,330.00 L554.70,339.20" stroke="#2563ff" stroke-width="1.35" fill="none" stroke-linejoin="round" stroke-linecap="round" />
<path d="M554.70,339.50 L556.30,339.50" stroke="#111" stroke-width="1.6" fill="none" stroke-linejoin="round" stroke-linecap="round" />
<path d="M556.30,337.20 L557.50,340.00 L559.00,360.00 L560.20,382.20" stroke="#ff1010" stroke-width="1.35" fill="none" stroke-linejoin="round" stroke-linecap="round" />
<path d="M560.20,382.20 L562.10,319.10 L563.00,330.00 L564.10,340.20" stroke="#2563ff" stroke-width="1.35" fill="none" stroke-linejoin="round" stroke-linecap="round" />
<path d="M564.10,341.20 L566.40,341.20" stroke="#111" stroke-width="1.6" fill="none" stroke-linejoin="round" stroke-linecap="round" />
<path d="M567.00,342.10 L569.00,366.60" stroke="#2563ff" stroke-width="1.35" fill="none" stroke-linejoin="round" stroke-linecap="round" />
<path d="M569.00,367.10 L573.90,367.10" stroke="#111" stroke-width="1.6" fill="none" stroke-linejoin="round" stroke-linecap="round" />
<path d="M573.90,367.00 L575.00,360.00 L576.80,343.10 L577.80,351.90" stroke="#ff1010" stroke-width="1.35" fill="none" stroke-linejoin="round" stroke-linecap="round" />
<path d="M577.80,351.90 L579.30,323.60 L580.00,327.00 L582.60,366.60" stroke="#2563ff" stroke-width="1.35" fill="none" stroke-linejoin="round" stroke-linecap="round" />
<path d="M582.60,366.60 L584.20,366.60" stroke="#111" stroke-width="1.6" fill="none" stroke-linejoin="round" stroke-linecap="round" />
<path d="M584.20,366.50 L585.20,358.00 L587.00,343.00 L588.00,350.00" stroke="#ff1010" stroke-width="1.35" fill="none" stroke-linejoin="round" stroke-linecap="round" />
<path d="M588.00,350.00 L589.20,326.00 L589.90,329.00 L592.00,367.40" stroke="#2563ff" stroke-width="1.35" fill="none" stroke-linejoin="round" stroke-linecap="round" />
<path d="M592.00,367.40 L594.00,367.40" stroke="#111" stroke-width="1.6" fill="none" stroke-linejoin="round" stroke-linecap="round" />
<path d="M594.00,366.50 L595.00,358.00 L596.90,343.00 L598.00,349.00" stroke="#ff1010" stroke-width="1.35" fill="none" stroke-linejoin="round" stroke-linecap="round" />
<path d="M598.00,349.00 L599.50,327.50 L600.20,330.00 L602.40,367.90" stroke="#2563ff" stroke-width="1.35" fill="none" stroke-linejoin="round" stroke-linecap="round" />
<path d="M602.40,368.50 L604.30,369.10" stroke="#111" stroke-width="1.6" fill="none" stroke-linejoin="round" stroke-linecap="round" />
<path d="M604.30,370.30 L606.70,397.80" stroke="#2563ff" stroke-width="1.35" fill="none" stroke-linejoin="round" stroke-linecap="round" />
<path d="M606.70,397.80 L611.50,397.80" stroke="#111" stroke-width="1.6" fill="none" stroke-linejoin="round" stroke-linecap="round" />
<path d="M611.50,397.80 L612.80,385.00 L615.60,335.60" stroke="#ff1010" stroke-width="1.35" fill="none" stroke-linejoin="round" stroke-linecap="round" />
<path d="M615.60,335.60 L616.30,331.50 L617.00,333.00 L620.40,400.20" stroke="#2563ff" stroke-width="1.35" fill="none" stroke-linejoin="round" stroke-linecap="round" />
<path d="M620.40,400.20 L622.00,400.20" stroke="#111" stroke-width="1.6" fill="none" stroke-linejoin="round" stroke-linecap="round" />
<path d="M622.00,400.20 L623.20,388.00 L625.10,336.80" stroke="#ff1010" stroke-width="1.35" fill="none" stroke-linejoin="round" stroke-linecap="round" />
<path d="M625.10,336.80 L625.90,333.20 L626.60,335.00 L629.90,402.60" stroke="#2563ff" stroke-width="1.35" fill="none" stroke-linejoin="round" stroke-linecap="round" />
<path d="M629.90,402.60 L631.80,402.60" stroke="#111" stroke-width="1.6" fill="none" stroke-linejoin="round" stroke-linecap="round" />
<path d="M631.80,402.60 L633.00,390.00 L635.40,335.60" stroke="#ff1010" stroke-width="1.35" fill="none" stroke-linejoin="round" stroke-linecap="round" />
<path d="M635.40,335.60 L636.40,332.50 L637.10,334.00 L640.70,402.60" stroke="#2563ff" stroke-width="1.35" fill="none" stroke-linejoin="round" stroke-linecap="round" />
<path d="M640.70,403.20 L642.60,403.80" stroke="#111" stroke-width="1.6" fill="none" stroke-linejoin="round" stroke-linecap="round" />
<path d="M642.60,403.80 L643.60,423.00" stroke="#2563ff" stroke-width="1.35" fill="none" stroke-linejoin="round" stroke-linecap="round" />
<path d="M643.60,423.40 L650.30,423.40" stroke="#111" stroke-width="1.6" fill="none" stroke-linejoin="round" stroke-linecap="round" />
<path d="M650.30,423.00 L651.50,400.00 L653.20,348.70" stroke="#ff1010" stroke-width="1.35" fill="none" stroke-linejoin="round" stroke-linecap="round" />
<path d="M653.20,348.70 L653.80,350.00 L658.00,424.20" stroke="#2563ff" stroke-width="1.35" fill="none" stroke-linejoin="round" stroke-linecap="round" />
<path d="M658.00,424.20 L659.90,424.20" stroke="#111" stroke-width="1.6" fill="none" stroke-linejoin="round" stroke-linecap="round" />
<path d="M659.90,424.20 L661.20,400.00 L663.00,343.90" stroke="#ff1010" stroke-width="1.35" fill="none" stroke-linejoin="round" stroke-linecap="round" />
<path d="M663.00,343.90 L663.60,345.00 L668.20,424.20" stroke="#2563ff" stroke-width="1.35" fill="none" stroke-linejoin="round" stroke-linecap="round" />
<path d="M668.20,424.20 L669.90,423.50" stroke="#111" stroke-width="1.6" fill="none" stroke-linejoin="round" stroke-linecap="round" />
<path d="M669.90,423.00 L671.20,400.00 L673.00,340.40" stroke="#ff1010" stroke-width="1.35" fill="none" stroke-linejoin="round" stroke-linecap="round" />
<path d="M673.00,340.40 L673.60,342.00 L677.80,423.00" stroke="#2563ff" stroke-width="1.35" fill="none" stroke-linejoin="round" stroke-linecap="round" />
<path d="M677.80,422.50 L684.00,422.50" stroke="#111" stroke-width="1.6" fill="none" stroke-linejoin="round" stroke-linecap="round" />
<path d="M342.4,289.5 L684.0,289.5 L684.0,441.5 L342.4,441.5 Z" stroke="#333" stroke-width="1.0" fill="none" />
<line x1="407.40" y1="441.50" x2="407.40" y2="439.30" stroke="#333" stroke-width="0.8" />
<line x1="407.40" y1="289.50" x2="407.40" y2="291.70" stroke="#333" stroke-width="0.8" />
<line x1="475.20" y1="441.50" x2="475.20" y2="439.30" stroke="#333" stroke-width="0.8" />
<line x1="475.20" y1="289.50" x2="475.20" y2="291.70" stroke="#333" stroke-width="0.8" />
<line x1="542.50" y1="441.50" x2="542.50" y2="439.30" stroke="#333" stroke-width="0.8" />
<line x1="542.50" y1="289.50" x2="542.50" y2="291.70" stroke="#333" stroke-width="0.8" />
<line x1="609.70" y1="441.50" x2="609.70" y2="439.30" stroke="#333" stroke-width="0.8" />
<line x1="609.70" y1="289.50" x2="609.70" y2="291.70" stroke="#333" stroke-width="0.8" />
<line x1="676.80" y1="441.50" x2="676.80" y2="439.30" stroke="#333" stroke-width="0.8" />
<line x1="676.80" y1="289.50" x2="676.80" y2="291.70" stroke="#333" stroke-width="0.8" />
<line x1="342.40" y1="308.60" x2="344.40" y2="308.60" stroke="#333" stroke-width="0.7" />
<line x1="684.00" y1="308.60" x2="682.00" y2="308.60" stroke="#333" stroke-width="0.7" />
<line x1="342.40" y1="327.53" x2="344.40" y2="327.53" stroke="#333" stroke-width="0.7" />
<line x1="684.00" y1="327.53" x2="682.00" y2="327.53" stroke="#333" stroke-width="0.7" />
<line x1="342.40" y1="346.46" x2="344.40" y2="346.46" stroke="#333" stroke-width="0.7" />
<line x1="684.00" y1="346.46" x2="682.00" y2="346.46" stroke="#333" stroke-width="0.7" />
<line x1="342.40" y1="365.39" x2="344.40" y2="365.39" stroke="#333" stroke-width="0.7" />
<line x1="684.00" y1="365.39" x2="682.00" y2="365.39" stroke="#333" stroke-width="0.7" />
<line x1="342.40" y1="384.32" x2="344.40" y2="384.32" stroke="#333" stroke-width="0.7" />
<line x1="684.00" y1="384.32" x2="682.00" y2="384.32" stroke="#333" stroke-width="0.7" />
<line x1="342.40" y1="403.25" x2="344.40" y2="403.25" stroke="#333" stroke-width="0.7" />
<line x1="684.00" y1="403.25" x2="682.00" y2="403.25" stroke="#333" stroke-width="0.7" />
<line x1="342.40" y1="422.18" x2="344.40" y2="422.18" stroke="#333" stroke-width="0.7" />
<line x1="684.00" y1="422.18" x2="682.00" y2="422.18" stroke="#333" stroke-width="0.7" />
<text transform="translate(400.70,450.20) scale(0.7754,1)" fill="#000" ><tspan dy="0.00" font-size="8.00">3000</tspan></text>
<text transform="translate(468.50,450.20) scale(0.7866,1)" fill="#000" ><tspan dy="0.00" font-size="8.00">4000</tspan></text>
<text transform="translate(535.20,450.40) scale(0.8203,1)" fill="#000" ><tspan dy="0.00" font-size="8.00">5000</tspan></text>
<text transform="translate(601.80,450.40) scale(0.8203,1)" fill="#000" ><tspan dy="0.00" font-size="8.00">6000</tspan></text>
<text transform="translate(669.00,450.40) scale(0.8147,1)" fill="#000" ><tspan dy="0.00" font-size="8.00">7000</tspan></text>
<text transform="translate(493.80,456.70) scale(0.8702,1)" fill="#000" ><tspan dy="0.00" font-size="9.50">Time (s)</tspan></text>
<text transform="translate(319.10,451.20) scale(0.9056,1)" fill="#000" ><tspan dy="0.00" font-size="9.90">TiO</tspan><tspan dy="2.77" font-size="7.13">2</tspan></text>
<line x1="333.20" y1="443.70" x2="339.20" y2="428.80" stroke="#000" stroke-width="0.9" />
<path d="M341.00,424.20 L340.88,430.62 L336.62,428.90 Z" fill="#000"/>
<text transform="translate(334.60,433.30) rotate(-90) scale(1.0222,1)" fill="#000" ><tspan dy="0.00" font-size="10.20">Diffracted intensity (arb. units)</tspan></text>
<text transform="translate(367.00,285.80) scale(0.9724,1)" fill="#000" ><tspan dy="0.00" font-size="9.50">triangle</tspan></text>
<text transform="translate(430.10,285.80) scale(0.9906,1)" fill="#000" ><tspan dy="0.00" font-size="9.50">double-peak</tspan></text>
<text transform="translate(497.40,275.70) scale(1.0089,1)" fill="#000" ><tspan dy="0.00" font-size="9.50">inverted</tspan></text>
<text transform="translate(500.40,286.40) scale(0.9788,1)" fill="#000" ><tspan dy="0.00" font-size="9.50">triangle</tspan></text>
<text transform="translate(547.30,285.80) scale(1.0020,1)" fill="#000" ><tspan dy="0.00" font-size="9.50">double-peak</tspan></text>
<text transform="translate(625.80,285.80) scale(0.9885,1)" fill="#000" ><tspan dy="0.00" font-size="9.50">triangle</tspan></text>
<text transform="translate(347.10,304.90) scale(0.8508,1)" fill="#000" ><tspan dy="0.00" font-size="11.60">Sr</tspan><tspan dy="2.30" font-size="8.00">1</tspan><tspan dy="-2.30" font-size="11.60">Ti</tspan><tspan dy="2.30" font-size="8.00">1</tspan></text>
<text transform="translate(401.30,299.50) scale(1.0170,1)" fill="#ff1010" ><tspan dy="0.00" font-size="10.00">+Sr 0.33 layer</tspan></text>
<text transform="translate(558.40,299.50) scale(1.0398,1)" fill="#1f40ff" ><tspan dy="0.00" font-size="10.00">+Ti 0.33 layer</tspan></text>
<line x1="377.20" y1="302.20" x2="490.50" y2="302.20" stroke="#ff1010" stroke-width="0.9" stroke-dasharray="2.2,0.9" />
<line x1="377.20" y1="302.20" x2="377.20" y2="381.80" stroke="#ff1010" stroke-width="0.9" stroke-dasharray="2.2,0.9" />
<path d="M377.20,385.30 L375.00,380.30 L377.20,381.50 L379.40,380.30 Z" stroke="#ff1010" stroke-width="0.3" fill="#ff1010" />
<line x1="415.20" y1="302.20" x2="415.20" y2="358.70" stroke="#ff1010" stroke-width="0.9" stroke-dasharray="2.2,0.9" />
<path d="M415.20,362.20 L413.00,357.20 L415.20,358.40 L417.40,357.20 Z" stroke="#ff1010" stroke-width="0.3" fill="#ff1010" />
<line x1="452.60" y1="302.20" x2="452.60" y2="335.70" stroke="#ff1010" stroke-width="0.9" stroke-dasharray="2.2,0.9" />
<path d="M452.60,339.20 L450.40,334.20 L452.60,335.40 L454.80,334.20 Z" stroke="#ff1010" stroke-width="0.3" fill="#ff1010" />
<line x1="490.50" y1="302.20" x2="490.50" y2="316.40" stroke="#ff1010" stroke-width="0.9" stroke-dasharray="2.2,0.9" />
<path d="M490.50,319.90 L488.30,314.90 L490.50,316.10 L492.70,314.90 Z" stroke="#ff1010" stroke-width="0.3" fill="#ff1010" />
<line x1="530.30" y1="302.30" x2="644.50" y2="302.30" stroke="#1f40ff" stroke-width="0.9" stroke-dasharray="2.2,0.9" />
<line x1="530.30" y1="302.30" x2="530.30" y2="310.30" stroke="#1f40ff" stroke-width="0.9" stroke-dasharray="2.2,0.9" />
<path d="M530.30,313.80 L528.10,308.80 L530.30,310.00 L532.50,308.80 Z" stroke="#1f40ff" stroke-width="0.3" fill="#1f40ff" />
<line x1="567.70" y1="302.30" x2="567.70" y2="323.50" stroke="#1f40ff" stroke-width="0.9" stroke-dasharray="2.2,0.9" />
<path d="M567.70,327.00 L565.50,322.00 L567.70,323.20 L569.90,322.00 Z" stroke="#1f40ff" stroke-width="0.3" fill="#1f40ff" />
<line x1="607.50" y1="302.30" x2="607.50" y2="344.00" stroke="#1f40ff" stroke-width="0.9" stroke-dasharray="2.2,0.9" />
<path d="M607.50,347.50 L605.30,342.50 L607.50,343.70 L609.70,342.50 Z" stroke="#1f40ff" stroke-width="0.3" fill="#1f40ff" />
<line x1="644.50" y1="302.30" x2="644.50" y2="372.80" stroke="#1f40ff" stroke-width="0.9" stroke-dasharray="2.2,0.9" />
<path d="M644.50,376.30 L642.30,371.30 L644.50,372.50 L646.70,371.30 Z" stroke="#1f40ff" stroke-width="0.3" fill="#1f40ff" />
<path d="M369.50,437.40 L399.10,437.40 Q401.60,437.40 401.60,434.90 L401.60,432.50" stroke="#111" stroke-width="1.8" fill="none" />
<path d="M401.60,429.30 L404.00,432.70 L399.20,432.70 Z" fill="#fff" stroke="#111" stroke-width="1.1"/>
<path d="M410.40,426.90 L436.20,426.90 Q438.70,426.90 438.70,424.40 L438.70,420.60" stroke="#111" stroke-width="1.8" fill="none" />
<path d="M438.70,417.40 L441.10,420.80 L436.30,420.80 Z" fill="#fff" stroke="#111" stroke-width="1.1"/>
<path d="M447.40,414.60 L473.30,414.60 Q475.80,414.60 475.80,412.10 L475.80,408.50" stroke="#111" stroke-width="1.8" fill="none" />
<path d="M475.80,405.30 L478.20,408.70 L473.40,408.70 Z" fill="#fff" stroke="#111" stroke-width="1.1"/>
<path d="M553.70,404.90 L553.70,410.80 Q553.70,413.30 556.20,413.30 L575.30,413.30" stroke="#111" stroke-width="1.8" fill="none" />
<path d="M578.50,413.30 L575.10,410.90 L575.10,415.70 Z" fill="#fff" stroke="#111" stroke-width="1.1"/>
<path d="M587.40,416.90 L587.40,421.80 Q587.40,424.30 589.90,424.30 L612.70,424.30" stroke="#111" stroke-width="1.8" fill="none" />
<path d="M615.90,424.30 L612.50,421.90 L612.50,426.70 Z" fill="#fff" stroke="#111" stroke-width="1.1"/>
<path d="M625.20,428.60 L625.20,434.80 Q625.20,437.30 627.70,437.30 L656.40,437.30" stroke="#111" stroke-width="1.8" fill="none" />
<path d="M659.60,437.30 L656.20,434.90 L656.20,439.70 Z" fill="#fff" stroke="#111" stroke-width="1.1"/>
<rect x="353.10" y="427.70" width="16.40" height="12.60" fill="#fff" stroke="#111" stroke-width="1.2"/>
<text x="361.30" y="438.00" font-size="11.5" text-anchor="middle" fill="#000">A</text>
<rect x="394.00" y="416.90" width="16.40" height="11.70" fill="#fff" stroke="#111" stroke-width="1.2"/>
<text x="402.20" y="426.75" font-size="11.5" text-anchor="middle" fill="#000">B</text>
<rect x="430.50" y="405.30" width="16.90" height="11.60" fill="#fff" stroke="#111" stroke-width="1.2"/>
<text x="438.95" y="415.10" font-size="11.5" text-anchor="middle" fill="#000">C</text>
<rect x="467.90" y="392.30" width="18.00" height="12.60" fill="#fff" stroke="#111" stroke-width="1.2"/>
<text x="476.90" y="402.60" font-size="11.5" text-anchor="middle" fill="#000">D</text>
<rect x="505.50" y="422.00" width="16.20" height="12.70" fill="#fff" stroke="#111" stroke-width="1.2"/>
<text x="513.60" y="432.35" font-size="11.5" text-anchor="middle" fill="#000">E</text>
<rect x="544.60" y="392.30" width="19.10" height="12.60" fill="#fff" stroke="#111" stroke-width="1.2"/>
<text x="554.15" y="402.60" font-size="11.5" text-anchor="middle" fill="#000">D’</text>
<rect x="579.00" y="404.60" width="19.30" height="12.30" fill="#fff" stroke="#111" stroke-width="1.2"/>
<text x="588.65" y="414.75" font-size="11.5" text-anchor="middle" fill="#000">C’</text>
<rect x="616.40" y="416.90" width="19.00" height="11.70" fill="#fff" stroke="#111" stroke-width="1.2"/>
<text x="625.90" y="426.75" font-size="11.5" text-anchor="middle" fill="#000">B’</text>
<rect x="660.20" y="428.60" width="19.00" height="11.70" fill="#fff" stroke="#111" stroke-width="1.2"/>
<text x="669.70" y="438.45" font-size="11.5" text-anchor="middle" fill="#000">A’</text>
</svg></body></html>
